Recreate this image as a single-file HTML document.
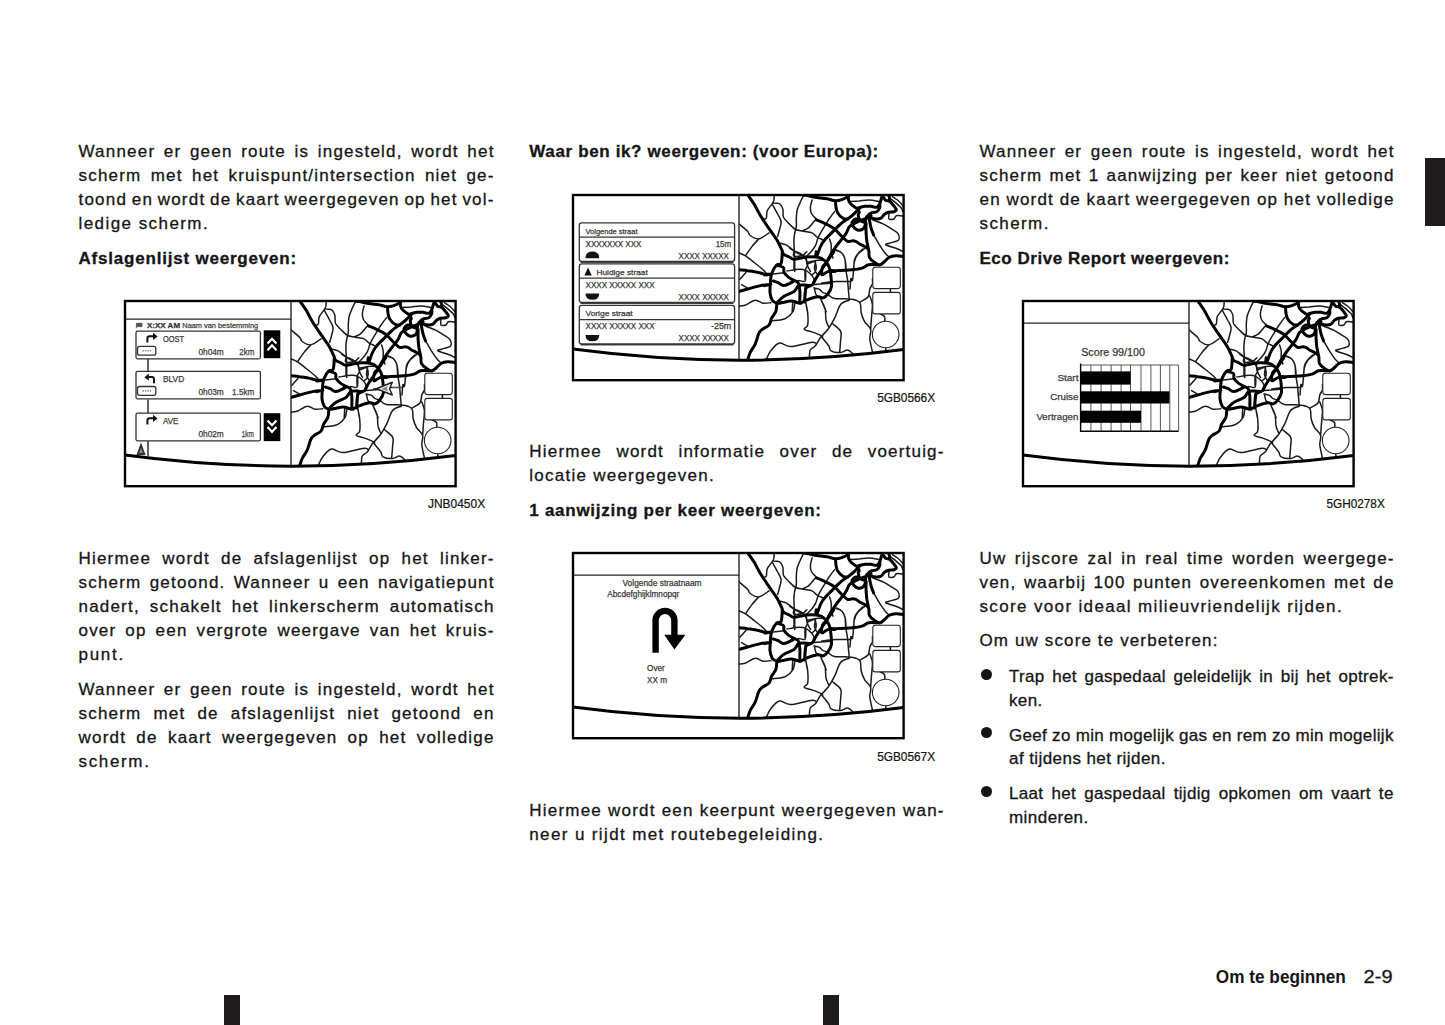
<!DOCTYPE html>
<html><head><meta charset="utf-8"><title>Om te beginnen 2-9</title><style>
*{margin:0;padding:0}
html,body{width:1445px;height:1025px;background:#fff;overflow:hidden}
body{position:relative;font-family:"Liberation Sans",sans-serif;color:#151515}
.ln{position:absolute;white-space:nowrap;font-size:17px;line-height:24px;letter-spacing:1.2px;-webkit-text-stroke:0.3px #151515}
.ln.b{font-weight:bold;letter-spacing:0.55px}
.ln.c{letter-spacing:0.33px}
.j{display:flex;justify-content:space-between}
.bul{position:absolute;width:11px;height:11px;border-radius:50%;background:#151515}
.tab{position:absolute;left:1425px;top:158px;width:20px;height:68px;background:#1d1b1c}
.mk{position:absolute;top:995px;width:16px;height:30px;background:#1d1b1c}
.foot{position:absolute;top:0;white-space:nowrap;font-size:17px;line-height:24px}
svg{position:absolute;overflow:visible;font-family:"Liberation Sans",sans-serif}
.cap{position:absolute;font-size:10.5px;line-height:12px;white-space:nowrap;color:#111}
</style></head>
<body>
<div class="ln j r" style="left:78.5px;top:140.3px;width:416.2px"><span>Wanneer</span><span>er</span><span>geen</span><span>route</span><span>is</span><span>ingesteld,</span><span>wordt</span><span>het</span></div>
<div class="ln j r" style="left:78.5px;top:164.3px;width:416.2px"><span>scherm</span><span>met</span><span>het</span><span>kruispunt/intersection</span><span>niet</span><span>ge-</span></div>
<div class="ln j r" style="left:78.5px;top:188.3px;width:416.2px"><span>toond</span><span>en</span><span>wordt</span><span>de</span><span>kaart</span><span>weergegeven</span><span>op</span><span>het</span><span>vol-</span></div>
<div class="ln r" style="left:78.5px;top:212.3px;letter-spacing:1.434px">ledige scherm.</div>
<div class="ln b" style="left:78.5px;top:247.3px;letter-spacing:0.794px">Afslagenlijst weergeven:</div>
<div class="ln j r" style="left:78.5px;top:546.8px;width:416.2px"><span>Hiermee</span><span>wordt</span><span>de</span><span>afslagenlijst</span><span>op</span><span>het</span><span>linker-</span></div>
<div class="ln j r" style="left:78.5px;top:570.8px;width:416.2px"><span>scherm</span><span>getoond.</span><span>Wanneer</span><span>u</span><span>een</span><span>navigatiepunt</span></div>
<div class="ln j r" style="left:78.5px;top:594.8px;width:416.2px"><span>nadert,</span><span>schakelt</span><span>het</span><span>linkerscherm</span><span>automatisch</span></div>
<div class="ln j r" style="left:78.5px;top:618.8px;width:416.2px"><span>over</span><span>op</span><span>een</span><span>vergrote</span><span>weergave</span><span>van</span><span>het</span><span>kruis-</span></div>
<div class="ln r" style="left:78.5px;top:642.8px;letter-spacing:1.700px">punt.</div>
<div class="ln j r" style="left:78.5px;top:677.8px;width:416.2px"><span>Wanneer</span><span>er</span><span>geen</span><span>route</span><span>is</span><span>ingesteld,</span><span>wordt</span><span>het</span></div>
<div class="ln j r" style="left:78.5px;top:701.8px;width:416.2px"><span>scherm</span><span>met</span><span>de</span><span>afslagenlijst</span><span>niet</span><span>getoond</span><span>en</span></div>
<div class="ln j r" style="left:78.5px;top:725.8px;width:416.2px"><span>wordt</span><span>de</span><span>kaart</span><span>weergegeven</span><span>op</span><span>het</span><span>volledige</span></div>
<div class="ln r" style="left:78.5px;top:749.8px;letter-spacing:1.657px">scherm.</div>
<div class="ln b" style="left:529.3px;top:140.3px;letter-spacing:0.639px">Waar ben ik? weergeven: (voor Europa):</div>
<div class="ln j r" style="left:529.3px;top:439.8px;width:415.4px"><span>Hiermee</span><span>wordt</span><span>informatie</span><span>over</span><span>de</span><span>voertuig-</span></div>
<div class="ln r" style="left:529.3px;top:463.8px;letter-spacing:1.249px">locatie weergegeven.</div>
<div class="ln b" style="left:529.3px;top:498.7px;letter-spacing:0.723px">1 aanwijzing per keer weergeven:</div>
<div class="ln j r" style="left:529.3px;top:799.0px;width:415.4px"><span>Hiermee</span><span>wordt</span><span>een</span><span>keerpunt</span><span>weergegeven</span><span>wan-</span></div>
<div class="ln r" style="left:529.3px;top:823.0px;letter-spacing:1.371px">neer u rijdt met routebegeleiding.</div>
<div class="ln j r" style="left:979.5px;top:140.3px;width:415.2px"><span>Wanneer</span><span>er</span><span>geen</span><span>route</span><span>is</span><span>ingesteld,</span><span>wordt</span><span>het</span></div>
<div class="ln j r" style="left:979.5px;top:164.3px;width:415.2px"><span>scherm</span><span>met</span><span>1</span><span>aanwijzing</span><span>per</span><span>keer</span><span>niet</span><span>getoond</span></div>
<div class="ln j r" style="left:979.5px;top:188.3px;width:415.2px"><span>en</span><span>wordt</span><span>de</span><span>kaart</span><span>weergegeven</span><span>op</span><span>het</span><span>volledige</span></div>
<div class="ln r" style="left:979.5px;top:212.3px;letter-spacing:1.407px">scherm.</div>
<div class="ln b" style="left:979.5px;top:247.3px;letter-spacing:0.527px">Eco Drive Report weergeven:</div>
<div class="ln j r" style="left:979.5px;top:547.3px;width:415.2px"><span>Uw</span><span>rijscore</span><span>zal</span><span>in</span><span>real</span><span>time</span><span>worden</span><span>weergege-</span></div>
<div class="ln j r" style="left:979.5px;top:571.3px;width:415.2px"><span>ven,</span><span>waarbij</span><span>100</span><span>punten</span><span>overeenkomen</span><span>met</span><span>de</span></div>
<div class="ln r" style="left:979.5px;top:595.3px;letter-spacing:1.355px">score voor ideaal milieuvriendelijk rijden.</div>
<div class="ln r" style="left:979.5px;top:629.1px;letter-spacing:1.126px">Om uw score te verbeteren:</div>
<div class="bul" style="left:980.5px;top:668.8px"></div>
<div class="ln j c" style="left:1009px;top:665.1px;width:384.8px"><span>Trap</span><span>het</span><span>gaspedaal</span><span>geleidelijk</span><span>in</span><span>bij</span><span>het</span><span>optrek-</span></div>
<div class="ln c" style="left:1009px;top:688.5px;letter-spacing:0.356px">ken.</div>
<div class="bul" style="left:980.5px;top:727.3px"></div>
<div class="ln j c" style="left:1009px;top:723.6px;width:384.8px"><span>Geef</span><span>zo</span><span>min</span><span>mogelijk</span><span>gas</span><span>en</span><span>rem</span><span>zo</span><span>min</span><span>mogelijk</span></div>
<div class="ln c" style="left:1009px;top:747.0px;letter-spacing:0.427px">af tijdens het rijden.</div>
<div class="bul" style="left:980.5px;top:785.8px"></div>
<div class="ln j c" style="left:1009px;top:782.1px;width:384.8px"><span>Laat</span><span>het</span><span>gaspedaal</span><span>tijdig</span><span>opkomen</span><span>om</span><span>vaart</span><span>te</span></div>
<div class="ln c" style="left:1009px;top:805.5px;letter-spacing:0.449px">minderen.</div>
<div class="tab"></div>
<div class="mk" style="left:224px"></div>
<div class="mk" style="left:823px"></div>
<svg style="left:122.7px;top:299.2px" width="334" height="190" viewBox="0 0 334 190">
<defs><clipPath id="c1"><path d="M168 2H332.6V156.5Q250 178 168 167Z"/></clipPath></defs>
<g clip-path="url(#c1)"><g transform="translate(163.7,-1.3)"><path d="M115.2 9.8C116.8 9.7 121.3 9.5 124.5 9.3C127.7 9.0 131.0 8.2 134.3 8.3C137.5 8.4 142.4 9.5 144.0 9.8M155.7 6.8C156.6 7.6 159.3 9.7 161.1 11.2C162.9 12.8 165.3 14.7 166.5 16.1C167.6 17.5 167.7 18.9 167.9 19.5M157.7 4.9C158.7 5.5 161.8 7.3 163.5 8.8C165.2 10.2 167.2 12.8 167.9 13.7M154.3 22.0C154.3 22.8 153.5 26.4 154.3 27.3C155.1 28.2 158.0 27.8 159.1 27.3C160.3 26.8 160.4 25.0 161.1 24.4C161.8 23.8 162.4 23.9 163.5 23.9C164.7 23.9 167.2 24.3 167.9 24.4M69.1 3.3C68.6 4.4 66.9 7.5 65.8 10.0C64.7 12.5 63.2 15.5 62.5 18.3C61.8 21.0 61.8 23.8 61.6 26.6C61.5 29.3 61.9 32.4 61.6 34.9C61.4 37.4 60.4 39.0 60.0 41.5C59.6 44.0 59.2 45.7 59.2 49.8C59.2 54.0 59.8 61.5 60.0 66.4C60.1 71.4 60.0 77.5 60.0 79.7M77.4 8.3C77.1 9.4 75.9 12.7 75.8 15.0C75.6 17.2 75.6 19.5 76.6 21.6C77.6 23.7 80.7 26.4 81.6 27.4M99.9 19.9C99.0 21.0 96.4 24.4 94.9 26.6C93.3 28.8 92.1 31.0 90.7 33.2C89.3 35.4 87.8 37.7 86.6 39.9C85.3 42.1 84.2 44.2 83.2 46.5C82.3 48.9 81.9 51.8 80.7 54.0C79.6 56.2 78.4 57.7 76.6 59.8C74.8 61.9 71.1 65.3 70.0 66.4M94.9 47.3C95.1 48.3 96.3 51.1 96.5 53.2C96.8 55.2 96.3 57.6 96.5 59.8C96.8 62.0 97.9 65.3 98.2 66.4M101.5 58.1C102.5 58.7 105.8 59.7 107.3 61.5C108.8 63.3 110.0 65.9 110.6 68.9C111.3 72.0 111.3 77.9 111.5 79.7M128.1 57.3C127.3 58.1 124.5 60.5 123.1 62.3C121.7 64.1 120.5 65.2 119.8 68.1C119.1 71.0 119.1 77.8 119.0 79.7M138.1 28.2C139.9 28.9 145.7 30.9 148.9 32.4C152.0 33.9 154.8 35.9 157.2 37.4C159.5 38.9 161.9 39.7 163.0 41.5C164.1 43.3 165.2 46.5 163.8 48.2C162.4 49.8 156.7 50.7 154.7 51.5C152.6 52.3 150.0 52.2 151.3 53.2C152.7 54.1 160.2 56.2 163.0 57.3C165.7 58.4 167.1 59.4 168.0 59.8M138.9 43.2C139.9 44.9 142.8 50.1 144.7 53.2C146.6 56.2 148.9 59.4 150.5 61.5C152.2 63.5 154.0 64.9 154.7 65.6M55.0 56.5C55.8 57.0 57.5 58.4 60.0 59.8C62.5 61.2 68.3 64.0 70.0 64.8M71.6 65.6C71.7 66.9 71.7 70.7 72.4 73.1C73.1 75.4 75.2 78.6 75.8 79.7M59.3 67.6L59.3 77.6M52.2 79.3C54.4 79.0 62.0 77.7 65.1 77.6C68.2 77.5 69.2 77.9 71.0 78.7C72.7 79.5 74.3 80.9 75.7 82.2C77.0 83.6 78.8 85.4 79.2 86.9C79.6 88.5 78.2 90.8 78.0 91.6M71.0 78.7C70.9 80.5 71.6 87.6 70.4 89.3C69.2 90.9 65.2 88.5 63.9 88.7C62.7 88.9 63.0 90.1 62.8 90.4M71.0 67.6C71.5 68.3 72.4 71.3 73.9 71.7C75.4 72.1 78.5 69.4 79.7 69.9C81.0 70.5 81.4 73.5 81.5 75.2C81.6 77.0 81.1 79.1 80.3 80.5C79.6 81.9 77.4 82.9 76.8 83.4M79.2 92.8L96.1 91.6M79.2 96.3C80.0 96.5 82.9 96.7 84.4 97.5C86.0 98.2 87.2 100.2 88.5 101.0C89.9 101.7 91.9 101.9 92.6 102.1M79.7 96.3C80.0 97.5 80.3 101.7 81.5 103.3C82.7 105.0 85.9 105.7 86.8 106.2M38.8 82.2L49.3 81.1M58.1 109.7L57.5 120.0M71.0 110.3L72.7 120.0M85.6 106.2L91.5 120.0M59.3 60.0C59.3 60.8 57.8 64.1 59.3 64.7C60.7 65.3 65.9 64.3 68.0 63.5C70.2 62.7 71.5 60.6 72.1 60.0M3.9 31.8C5.4 33.1 10.9 37.5 12.9 39.5C14.8 41.5 13.6 42.5 15.5 43.8C17.3 45.1 20.9 47.6 24.0 47.2C27.2 46.8 32.6 42.2 34.3 41.2M24.0 47.2C22.9 48.5 19.3 52.2 17.2 54.9C15.0 57.7 12.2 62.1 11.2 63.5M3.9 61.0C5.1 61.5 8.7 62.8 11.2 64.4C13.7 66.0 16.2 68.3 18.9 70.4C21.6 72.5 25.5 75.5 27.5 77.3C29.5 79.0 30.3 80.1 30.9 80.7M5.2 87.6L11.2 80.7M39.5 4.3C39.3 5.3 39.8 7.9 38.6 10.3C37.5 12.7 33.8 16.3 32.6 18.9C31.5 21.5 32.2 24.3 31.8 25.8C31.3 27.2 30.3 27.2 30.0 27.5M37.8 11.2C38.9 11.3 42.9 11.0 44.6 12.0C46.4 13.0 47.4 14.9 48.1 17.2C48.8 19.5 47.8 23.2 48.9 25.8C50.1 28.3 52.9 30.6 54.9 32.6C56.9 34.6 58.7 36.6 61.0 37.8C63.2 38.9 66.0 38.9 68.7 39.5C71.4 40.1 75.0 40.2 77.3 41.2C79.6 42.2 80.6 44.4 82.4 45.5C84.2 46.6 87.1 47.6 88.0 48.1M37.8 12.9C38.6 14.5 41.5 19.5 42.9 22.3C44.4 25.2 46.1 27.3 46.4 30.0C46.6 32.8 45.2 36.2 44.6 38.6C44.1 41.1 43.2 43.6 42.9 44.6M79.8 29.2C78.8 30.3 76.0 34.3 73.8 36.1C71.7 37.8 68.1 38.9 67.0 39.5M45.5 51.5C46.5 51.8 49.4 52.1 51.5 53.2C53.7 54.4 55.8 56.8 58.4 58.4C61.0 60.0 64.8 61.2 67.0 62.7C69.1 64.1 70.5 66.2 71.3 67.0M71.3 67.0C71.5 68.0 73.1 71.0 73.0 73.0C72.8 75.0 70.8 76.5 70.4 79.0C70.0 81.5 70.4 86.5 70.4 88.0M73.0 70.4C74.4 70.1 79.1 69.0 81.6 68.7C84.1 68.4 86.9 68.7 88.0 68.7M80.7 70.4C80.6 71.5 79.6 75.3 79.8 77.3C80.1 79.3 82.0 81.6 82.4 82.4M100.7 58.4C101.7 58.8 105.2 59.5 106.7 61.0C108.3 62.4 109.5 64.2 110.2 67.0C110.9 69.7 110.6 73.8 111.0 77.3C111.5 80.8 112.3 84.7 112.8 88.0C113.2 91.3 113.3 94.2 113.6 97.3C113.9 100.4 114.3 105.2 114.5 106.7M129.9 56.7C128.8 57.7 124.8 60.4 123.1 62.7C121.3 65.0 120.5 66.2 119.6 70.4C118.8 74.6 118.5 85.2 117.9 88.0C117.3 90.8 116.6 85.5 116.2 87.0C115.8 88.6 115.5 95.6 115.3 97.3M3.9 114.5C4.9 114.3 7.5 114.6 10.3 113.6C13.1 112.6 17.6 108.8 20.6 108.5C23.6 108.1 25.8 111.0 28.3 111.5C30.9 111.9 34.8 111.1 36.1 111.0M6.9 93.0L12.9 96.4M60.1 111.9C59.8 113.2 59.8 117.2 58.4 119.6C56.9 122.1 53.7 125.1 51.5 126.5C49.4 127.9 47.9 127.8 45.5 128.2C43.1 128.6 38.3 128.9 36.9 129.1M71.3 111.9C71.5 113.5 72.7 117.8 73.0 121.3C73.3 124.9 73.5 130.6 73.0 133.4C72.4 136.1 68.8 136.5 69.5 137.7C70.3 138.8 74.5 139.2 77.3 140.2C80.0 141.2 84.1 142.8 85.9 143.7C87.6 144.5 87.6 145.1 88.0 145.4M85.9 145.4C85.0 146.8 82.4 151.8 80.7 154.0C79.0 156.1 76.6 156.3 75.5 158.3C74.5 160.3 74.8 164.7 74.7 166.0M31.8 167.3C32.5 165.9 33.9 161.8 36.1 159.1C38.2 156.5 41.4 152.1 44.6 151.4C47.9 150.7 50.4 155.0 55.8 154.8C61.2 154.7 73.0 151.0 77.3 150.5C81.6 150.1 80.8 152.0 81.6 152.2M87.0 91.3C88.9 91.1 93.3 90.3 98.2 90.0C103.0 89.7 113.2 89.6 116.2 89.6M93.9 103.3C94.9 103.9 96.4 106.1 99.9 106.7C103.3 107.4 110.9 106.9 114.5 107.2C118.1 107.5 119.5 107.7 121.3 108.5C123.2 109.3 124.8 109.8 125.6 111.9C126.5 114.0 125.8 118.3 126.5 121.3C127.2 124.3 128.4 127.2 129.9 129.9C131.5 132.6 135.1 134.8 135.9 137.7C136.8 140.5 134.8 143.4 135.1 147.1C135.4 150.8 137.2 157.8 137.7 160.0M125.6 110.2C126.9 109.3 131.8 107.2 133.4 105.0C134.9 102.9 134.4 99.5 135.1 97.3C135.8 95.2 137.2 93.9 137.7 92.2C138.1 90.4 137.7 87.9 137.7 87.0M135.1 104.2C135.5 105.6 137.4 109.2 137.7 112.8C137.9 116.3 137.1 121.5 136.8 125.6C136.5 129.8 136.1 135.7 135.9 137.7M114.5 108.5C113.0 109.2 108.3 109.8 105.9 112.8C103.5 115.8 101.9 122.5 99.9 126.5C97.9 130.5 96.0 133.8 93.9 136.8C91.7 139.8 88.1 143.2 87.0 144.5M87.0 109.3C87.6 110.6 89.7 113.9 90.4 117.1C91.2 120.2 90.7 125.2 91.3 128.2C91.9 131.2 93.4 133.9 93.9 135.1M97.3 131.6C98.7 132.9 104.5 136.5 105.9 139.4C107.3 142.2 106.0 145.4 105.9 148.8C105.7 152.2 105.2 158.1 105.0 160.0M87.0 145.4C88.1 146.8 92.3 151.7 93.9 154.0C95.4 156.3 94.4 158.0 96.4 159.1C98.4 160.3 103.2 161.0 105.9 160.8C108.6 160.7 110.8 158.1 112.8 158.3C114.8 158.4 117.1 161.1 117.9 161.7M155.7 96.9L155.7 100.7M145.4 122.2C146.1 122.6 148.9 123.6 149.7 124.8C150.5 125.9 150.0 128.4 150.1 129.1M151.0 156.5L151.4 159.1" fill="none" stroke="#1a1a1a" stroke-width="1.5" stroke-linecap="round" stroke-linejoin="round"/>
<path d="M113.3 2.9C113.5 4.1 113.5 8.0 114.3 9.8C115.0 11.5 116.4 12.5 117.7 13.7C119.0 14.8 120.8 16.3 122.1 16.6C123.4 16.9 124.1 15.9 125.5 15.6C126.9 15.3 128.6 14.8 130.4 14.6C132.2 14.5 134.3 14.5 136.2 14.6C138.2 14.8 140.6 16.0 142.1 15.6C143.5 15.2 144.3 13.6 145.0 12.2C145.7 10.8 146.0 8.9 146.5 7.3C147.0 5.8 147.7 3.7 147.9 2.9M147.9 2.9C148.1 3.4 148.3 4.9 148.9 5.9C149.5 6.8 150.3 8.1 151.3 8.8C152.4 9.4 154.0 8.9 155.2 9.8C156.5 10.6 157.6 12.3 158.7 13.7C159.7 15.0 161.5 17.0 161.6 18.0C161.7 19.1 160.4 19.6 159.1 20.0C157.8 20.4 155.3 20.1 153.8 20.5C152.2 20.9 151.1 21.5 149.9 22.4C148.7 23.4 147.8 25.5 146.5 26.3C145.2 27.2 143.8 27.3 142.1 27.3C140.4 27.3 137.7 26.9 136.2 26.3C134.8 25.8 133.8 24.3 133.3 23.9M153.8 2.9C153.9 3.5 154.5 5.2 154.8 6.3C155.0 7.5 155.2 9.2 155.2 9.8M122.1 16.6C122.5 17.2 124.3 19.3 124.5 20.5C124.8 21.6 123.4 22.0 123.5 23.4C123.7 24.8 124.3 27.6 125.5 28.8C126.6 29.9 129.4 30.7 130.4 30.2C131.3 29.8 130.9 27.4 131.3 26.3C131.8 25.3 132.5 24.7 133.3 23.9C134.1 23.1 134.8 22.1 136.2 21.5C137.7 20.8 140.6 20.9 142.1 20.0C143.5 19.1 144.5 17.4 145.0 16.1C145.5 14.8 145.0 12.8 145.0 12.2M125.5 28.8C124.8 28.5 122.5 26.9 121.1 27.3C119.7 27.7 117.4 29.8 117.2 31.2C117.0 32.7 118.6 34.9 119.6 36.1C120.7 37.3 122.2 38.3 123.5 38.5C124.9 38.8 126.8 38.3 127.9 37.6C129.1 36.8 130.0 35.4 130.4 34.1C130.8 32.9 130.4 30.9 130.4 30.2M69.1 3.3C70.2 3.5 73.5 4.2 75.8 4.6C78.0 5.0 79.6 5.4 82.4 5.8C85.2 6.2 89.3 6.5 92.4 7.1C95.4 7.6 98.1 9.1 100.7 9.1C103.3 9.2 106.1 8.2 108.2 7.5C110.2 6.8 112.0 5.7 113.1 5.0C114.2 4.3 114.5 3.6 114.8 3.3M100.7 9.1C100.8 10.4 101.1 14.5 101.5 16.6C101.9 18.7 102.1 19.9 103.2 21.6C104.3 23.3 106.5 25.6 108.2 26.6C109.8 27.5 112.3 27.3 113.1 27.4M81.6 28.2C83.0 28.8 87.0 30.2 89.9 31.6C92.8 32.9 96.7 34.9 99.0 36.5C101.4 38.2 102.3 39.9 104.0 41.5C105.7 43.2 107.5 45.1 109.0 46.5C110.5 47.9 111.6 49.4 113.1 49.8C114.7 50.2 116.7 49.0 118.1 49.0C119.5 49.0 120.3 49.3 121.4 49.8C122.6 50.4 123.4 51.5 124.8 52.3C126.2 53.2 128.2 53.8 129.8 54.8C131.3 55.8 133.1 56.3 133.9 58.1C134.7 59.9 133.8 63.5 134.7 65.6C135.7 67.7 137.9 69.4 139.7 70.6C141.5 71.8 143.0 73.9 145.5 73.1C148.0 72.3 152.0 67.1 154.7 65.6C157.3 64.1 159.1 64.1 161.3 64.0C163.5 63.8 166.8 64.6 168.0 64.8M82.4 64.0C83.1 62.2 85.0 56.1 86.6 53.2C88.1 50.2 89.5 48.9 91.5 46.5C93.6 44.2 96.7 41.4 99.0 39.0C101.4 36.7 103.6 34.2 105.7 32.4C107.7 30.6 109.4 29.8 111.5 28.2C113.6 26.7 116.2 24.9 118.1 23.3C120.1 21.6 121.9 19.5 123.1 18.3C124.4 17.0 125.2 16.2 125.6 15.8M90.7 73.1C91.4 71.7 93.2 67.7 94.9 64.8C96.5 61.9 98.7 58.4 100.7 55.6C102.6 52.9 104.7 50.5 106.5 48.2C108.3 45.8 110.1 43.7 111.5 41.5C112.9 39.3 113.4 36.5 114.8 34.9C116.2 33.2 118.1 32.5 119.8 31.6C121.4 30.6 122.8 29.9 124.8 29.1C126.7 28.2 129.5 27.4 131.4 26.6C133.3 25.7 135.6 24.5 136.4 24.1M131.4 31.6C131.4 33.2 131.3 38.5 131.4 41.5C131.6 44.6 131.8 47.1 132.2 49.8C132.7 52.6 133.6 56.8 133.9 58.1M134.7 28.2C135.0 29.6 135.7 34.1 136.4 36.5C137.1 39.0 138.5 42.1 138.9 43.2M94.9 78.9C96.5 78.9 101.1 79.0 104.8 78.9C108.6 78.8 113.6 78.5 117.3 78.1C121.0 77.7 124.5 77.2 127.3 76.4C130.0 75.6 131.4 73.6 133.9 73.1C136.4 72.5 140.3 73.1 142.2 73.1C144.1 73.1 145.0 73.1 145.5 73.1M13.7 3.9C14.7 5.4 17.7 9.5 19.7 12.9C21.7 16.2 23.3 20.0 25.8 24.0C28.2 28.0 31.6 32.9 34.3 36.9C37.1 40.9 39.8 44.4 42.1 48.1C44.3 51.8 46.7 57.4 47.6 59.2M47.6 60.0C47.4 62.0 47.4 69.5 46.4 71.7C45.4 73.9 43.3 71.8 41.7 73.5C40.1 75.1 38.0 79.0 37.0 81.7C36.0 84.3 36.1 86.0 35.9 89.3C35.6 92.5 35.0 97.8 35.3 101.0C35.6 104.2 36.4 106.8 37.6 108.6C38.8 110.3 40.6 111.1 42.3 111.5C43.9 111.9 45.2 111.3 47.6 110.9C49.9 110.5 53.8 109.2 56.3 109.2C58.9 109.2 61.1 110.5 62.8 110.9C64.4 111.3 64.9 111.9 66.3 111.5C67.7 111.1 68.2 109.7 71.0 108.6C73.7 107.5 79.7 105.5 82.7 105.1C85.6 104.7 86.8 106.7 88.5 106.2C90.3 105.7 91.8 104.0 93.2 102.1C94.6 100.3 96.2 98.2 96.7 95.1C97.2 92.0 96.5 86.7 96.1 83.4C95.7 80.1 95.2 77.4 94.4 75.2C93.6 73.1 92.6 71.9 91.5 70.5C90.3 69.2 89.0 67.9 87.4 67.0C85.7 66.1 84.2 65.6 81.5 65.3C78.8 65.0 74.7 64.9 71.0 65.3C67.3 65.7 62.0 67.6 59.3 67.6C56.5 67.6 56.2 66.0 54.6 65.3C52.9 64.5 50.5 63.8 49.3 62.9C48.1 62.0 47.9 60.5 47.6 60.0M99.1 60.0C98.3 61.2 95.8 64.9 94.4 67.0C92.9 69.2 91.6 70.8 90.3 72.9C88.9 74.9 87.6 77.1 86.2 79.3C84.7 81.6 82.9 84.1 81.5 86.3C80.1 88.6 79.4 91.3 78.0 92.8C76.6 94.2 74.5 94.3 73.3 95.1C72.1 95.9 71.6 95.0 71.0 97.5C70.4 99.9 70.0 107.7 69.8 109.7M90.9 71.7C90.4 72.3 88.6 73.5 87.9 75.2C87.3 77.0 86.7 81.0 86.8 82.2C86.9 83.5 87.5 83.2 88.5 82.8C89.6 82.4 91.3 80.4 93.2 79.9C95.1 79.4 98.9 79.9 100.0 79.9M81.5 60.0L80.9 65.3M41.7 73.5C42.9 73.9 47.5 74.6 48.7 75.8C50.0 77.0 48.5 78.9 49.3 80.5C50.1 82.0 51.9 83.9 53.4 85.2C54.9 86.4 56.4 87.1 58.1 88.1C59.8 89.1 62.2 89.3 63.4 91.0C64.5 92.8 64.8 95.3 65.1 98.6C65.4 101.9 65.1 108.9 65.1 110.9M38.8 89.3C39.6 89.6 41.8 90.2 43.5 91.0C45.1 91.8 46.8 93.8 48.7 93.9C50.7 94.0 53.4 92.4 55.2 91.6C56.9 90.8 58.6 89.7 59.3 89.3M43.5 109.7C44.4 108.9 46.7 106.1 49.3 104.5C51.9 102.8 57.0 101.4 59.3 99.8C61.5 98.2 61.8 96.2 62.8 95.1C63.8 94.0 63.8 93.7 65.1 93.4C66.5 93.1 69.2 93.3 71.0 93.4C72.7 93.5 74.5 94.0 75.7 93.9C76.8 93.8 77.6 93.0 78.0 92.8M71.0 96.3L69.8 110.3M30.0 83.4L36.4 82.5M30.0 93.9L35.9 92.5M3.9 78.1C5.4 78.3 9.9 78.6 12.9 79.0C15.8 79.3 18.6 79.7 21.5 80.3C24.3 80.8 27.6 82.1 30.0 82.4C32.5 82.8 35.1 82.4 36.1 82.4M3.9 99.9C5.4 99.5 9.2 98.3 12.9 97.3C16.5 96.3 21.9 94.7 25.8 93.9C29.6 93.1 34.3 92.8 36.1 92.6M42.1 111.9C41.9 113.2 42.1 117.2 41.2 119.6C40.4 122.1 38.1 124.2 36.9 126.5C35.8 128.8 35.9 131.5 34.3 133.4C32.8 135.2 29.2 136.2 27.5 137.7C25.8 139.1 25.2 139.5 24.0 141.9C22.9 144.4 22.0 149.1 20.6 152.2C19.2 155.4 16.7 158.1 15.5 160.8C14.2 163.6 13.3 167.3 12.9 168.6" fill="none" stroke="#000" stroke-width="3" stroke-linecap="round" stroke-linejoin="round"/>
<rect x="138.1" y="75.5" width="27.5" height="21.4" rx="2.5" fill="#fff" stroke="#222" stroke-width="1.1"/>
<rect x="138.1" y="100.7" width="27.5" height="21.5" rx="2.5" fill="#fff" stroke="#222" stroke-width="1.1"/>
<circle cx="151" cy="142.8" r="13.3" fill="#fff" stroke="#222" stroke-width="1.1"/></g><path d="M269 88.5H279" stroke="#555" stroke-width="1"/><path d="M253.6 89.7L269.3 83.3L266.5 89.7L269.3 96Z" fill="#fff" stroke="#222" stroke-width="1.5" stroke-linejoin="round"/><path d="M258 89.7L265 87L264 89.7L265 92.5Z" fill="#888"/></g>
<path d="M2 156Q167 178 332.6 156.5" fill="none" stroke="#000" stroke-width="3"/>
<line x1="168" y1="2" x2="168" y2="167" stroke="#111" stroke-width="1.3"/>
<line x1="2" y1="20.2" x2="168" y2="20.2" stroke="#222" stroke-width="1.2"/>
<rect x="2" y="2" width="330.6" height="185.2" fill="none" stroke="#000" stroke-width="2.4"/>
<path d="M13.4 24.1V29M13.6 24.3H19V27.6H13.6" fill="#555" stroke="#444" stroke-width="0.8"/><text x="23.9" y="29.1" font-size="7.3" textLength="33.2" lengthAdjust="spacingAndGlyphs" font-weight="bold" fill="#333" stroke="#333" stroke-width="0.25">X:XX AM</text><text x="59.3" y="29.1" font-size="7.3" textLength="75.9" lengthAdjust="spacingAndGlyphs" fill="#444" stroke="#444" stroke-width="0.25">Naam van bestemming</text><path d="M25 59.5V72.5M25 100.5V114.4M25 142V157" stroke="#111" stroke-width="1.3"/><rect x="13" y="32.2" width="124.4" height="27.6" rx="1.5" fill="#fff" stroke="#333" stroke-width="1.3"/><path d="M24.4 43.5V39.5Q24.4 37.300000000000004 26.6 37.300000000000004H30.3" fill="none" stroke="#111" stroke-width="2"/><path d="M30 33.800000000000004L34.6 37.400000000000006L30 41.0Z" fill="#111"/><text x="39.9" y="42.900000000000006" font-size="8.8" textLength="21.1" lengthAdjust="spacingAndGlyphs" fill="#3a3a3a" stroke="#3a3a3a" stroke-width="0.25">OOST</text><text x="75.4" y="55.7" font-size="8.8" textLength="25.4" lengthAdjust="spacingAndGlyphs" fill="#3a3a3a" stroke="#3a3a3a" stroke-width="0.25">0h04m</text><text x="116.3" y="55.7" font-size="8.8" textLength="15" lengthAdjust="spacingAndGlyphs" fill="#3a3a3a" stroke="#3a3a3a" stroke-width="0.25">2km</text><rect x="14.5" y="47.400000000000006" width="18.3" height="8.8" rx="2" fill="#fff" stroke="#333" stroke-width="1.3"/><path d="M19.5 51.800000000000004H28" stroke="#888" stroke-width="1.6" stroke-dasharray="1.4 1.1"/><rect x="13" y="72.3" width="124.4" height="27.6" rx="1.5" fill="#fff" stroke="#333" stroke-width="1.3"/><path d="M31 84.3V80.3Q31 78.1 28.8 78.1H25.5" fill="none" stroke="#111" stroke-width="2"/><path d="M25.8 74.6L21.4 78.2L25.8 81.8Z" fill="#111"/><text x="39.9" y="83.0" font-size="8.8" textLength="21.3" lengthAdjust="spacingAndGlyphs" fill="#3a3a3a" stroke="#3a3a3a" stroke-width="0.25">BLVD</text><text x="75.4" y="95.8" font-size="8.8" textLength="25.4" lengthAdjust="spacingAndGlyphs" fill="#3a3a3a" stroke="#3a3a3a" stroke-width="0.25">0h03m</text><text x="109.1" y="95.8" font-size="8.8" textLength="22.2" lengthAdjust="spacingAndGlyphs" fill="#3a3a3a" stroke="#3a3a3a" stroke-width="0.25">1.5km</text><rect x="14.5" y="87.5" width="18.3" height="8.8" rx="2" fill="#fff" stroke="#333" stroke-width="1.3"/><path d="M19.5 91.9H28" stroke="#888" stroke-width="1.6" stroke-dasharray="1.4 1.1"/><rect x="13" y="114.2" width="124.4" height="27.6" rx="1.5" fill="#fff" stroke="#333" stroke-width="1.3"/><path d="M24.4 125.5V121.5Q24.4 119.3 26.6 119.3H30.3" fill="none" stroke="#111" stroke-width="2"/><path d="M30 115.8L34.6 119.4L30 123.0Z" fill="#111"/><text x="39.9" y="124.9" font-size="8.8" textLength="15.5" lengthAdjust="spacingAndGlyphs" fill="#3a3a3a" stroke="#3a3a3a" stroke-width="0.25">AVE</text><text x="75.4" y="137.7" font-size="8.8" textLength="25.4" lengthAdjust="spacingAndGlyphs" fill="#3a3a3a" stroke="#3a3a3a" stroke-width="0.25">0h02m</text><text x="118.7" y="137.7" font-size="8.8" textLength="12" lengthAdjust="spacingAndGlyphs" fill="#3a3a3a" stroke="#3a3a3a" stroke-width="0.25">1km</text><rect x="140.7" y="31.3" width="16.6" height="27.9" fill="#000"/><path d="M144.5 44.6L149 39.8L153.5 44.6M144.5 51.2L149 46.4L153.5 51.2" fill="none" stroke="#fff" stroke-width="2.2"/><rect x="140.7" y="114.2" width="16.6" height="27.9" fill="#000"/><path d="M144.5 121.4L149 126.2L153.5 121.4M144.5 128L149 132.8L153.5 128" fill="none" stroke="#fff" stroke-width="2.2"/><path d="M18 143.5L22.6 156H13.4Z" fill="#333"/><path d="M18 149L20 154H16Z" fill="#888"/>
</svg><svg style="left:571.3px;top:192.6px" width="334" height="190" viewBox="0 0 334 190">
<defs><clipPath id="c2"><path d="M168 2H332.6V156.5Q250 178 168 167Z"/></clipPath></defs>
<g clip-path="url(#c2)"><g transform="translate(163.7,-1.3)"><path d="M115.2 9.8C116.8 9.7 121.3 9.5 124.5 9.3C127.7 9.0 131.0 8.2 134.3 8.3C137.5 8.4 142.4 9.5 144.0 9.8M155.7 6.8C156.6 7.6 159.3 9.7 161.1 11.2C162.9 12.8 165.3 14.7 166.5 16.1C167.6 17.5 167.7 18.9 167.9 19.5M157.7 4.9C158.7 5.5 161.8 7.3 163.5 8.8C165.2 10.2 167.2 12.8 167.9 13.7M154.3 22.0C154.3 22.8 153.5 26.4 154.3 27.3C155.1 28.2 158.0 27.8 159.1 27.3C160.3 26.8 160.4 25.0 161.1 24.4C161.8 23.8 162.4 23.9 163.5 23.9C164.7 23.9 167.2 24.3 167.9 24.4M69.1 3.3C68.6 4.4 66.9 7.5 65.8 10.0C64.7 12.5 63.2 15.5 62.5 18.3C61.8 21.0 61.8 23.8 61.6 26.6C61.5 29.3 61.9 32.4 61.6 34.9C61.4 37.4 60.4 39.0 60.0 41.5C59.6 44.0 59.2 45.7 59.2 49.8C59.2 54.0 59.8 61.5 60.0 66.4C60.1 71.4 60.0 77.5 60.0 79.7M77.4 8.3C77.1 9.4 75.9 12.7 75.8 15.0C75.6 17.2 75.6 19.5 76.6 21.6C77.6 23.7 80.7 26.4 81.6 27.4M99.9 19.9C99.0 21.0 96.4 24.4 94.9 26.6C93.3 28.8 92.1 31.0 90.7 33.2C89.3 35.4 87.8 37.7 86.6 39.9C85.3 42.1 84.2 44.2 83.2 46.5C82.3 48.9 81.9 51.8 80.7 54.0C79.6 56.2 78.4 57.7 76.6 59.8C74.8 61.9 71.1 65.3 70.0 66.4M94.9 47.3C95.1 48.3 96.3 51.1 96.5 53.2C96.8 55.2 96.3 57.6 96.5 59.8C96.8 62.0 97.9 65.3 98.2 66.4M101.5 58.1C102.5 58.7 105.8 59.7 107.3 61.5C108.8 63.3 110.0 65.9 110.6 68.9C111.3 72.0 111.3 77.9 111.5 79.7M128.1 57.3C127.3 58.1 124.5 60.5 123.1 62.3C121.7 64.1 120.5 65.2 119.8 68.1C119.1 71.0 119.1 77.8 119.0 79.7M138.1 28.2C139.9 28.9 145.7 30.9 148.9 32.4C152.0 33.9 154.8 35.9 157.2 37.4C159.5 38.9 161.9 39.7 163.0 41.5C164.1 43.3 165.2 46.5 163.8 48.2C162.4 49.8 156.7 50.7 154.7 51.5C152.6 52.3 150.0 52.2 151.3 53.2C152.7 54.1 160.2 56.2 163.0 57.3C165.7 58.4 167.1 59.4 168.0 59.8M138.9 43.2C139.9 44.9 142.8 50.1 144.7 53.2C146.6 56.2 148.9 59.4 150.5 61.5C152.2 63.5 154.0 64.9 154.7 65.6M55.0 56.5C55.8 57.0 57.5 58.4 60.0 59.8C62.5 61.2 68.3 64.0 70.0 64.8M71.6 65.6C71.7 66.9 71.7 70.7 72.4 73.1C73.1 75.4 75.2 78.6 75.8 79.7M59.3 67.6L59.3 77.6M52.2 79.3C54.4 79.0 62.0 77.7 65.1 77.6C68.2 77.5 69.2 77.9 71.0 78.7C72.7 79.5 74.3 80.9 75.7 82.2C77.0 83.6 78.8 85.4 79.2 86.9C79.6 88.5 78.2 90.8 78.0 91.6M71.0 78.7C70.9 80.5 71.6 87.6 70.4 89.3C69.2 90.9 65.2 88.5 63.9 88.7C62.7 88.9 63.0 90.1 62.8 90.4M71.0 67.6C71.5 68.3 72.4 71.3 73.9 71.7C75.4 72.1 78.5 69.4 79.7 69.9C81.0 70.5 81.4 73.5 81.5 75.2C81.6 77.0 81.1 79.1 80.3 80.5C79.6 81.9 77.4 82.9 76.8 83.4M79.2 92.8L96.1 91.6M79.2 96.3C80.0 96.5 82.9 96.7 84.4 97.5C86.0 98.2 87.2 100.2 88.5 101.0C89.9 101.7 91.9 101.9 92.6 102.1M79.7 96.3C80.0 97.5 80.3 101.7 81.5 103.3C82.7 105.0 85.9 105.7 86.8 106.2M38.8 82.2L49.3 81.1M58.1 109.7L57.5 120.0M71.0 110.3L72.7 120.0M85.6 106.2L91.5 120.0M59.3 60.0C59.3 60.8 57.8 64.1 59.3 64.7C60.7 65.3 65.9 64.3 68.0 63.5C70.2 62.7 71.5 60.6 72.1 60.0M3.9 31.8C5.4 33.1 10.9 37.5 12.9 39.5C14.8 41.5 13.6 42.5 15.5 43.8C17.3 45.1 20.9 47.6 24.0 47.2C27.2 46.8 32.6 42.2 34.3 41.2M24.0 47.2C22.9 48.5 19.3 52.2 17.2 54.9C15.0 57.7 12.2 62.1 11.2 63.5M3.9 61.0C5.1 61.5 8.7 62.8 11.2 64.4C13.7 66.0 16.2 68.3 18.9 70.4C21.6 72.5 25.5 75.5 27.5 77.3C29.5 79.0 30.3 80.1 30.9 80.7M5.2 87.6L11.2 80.7M39.5 4.3C39.3 5.3 39.8 7.9 38.6 10.3C37.5 12.7 33.8 16.3 32.6 18.9C31.5 21.5 32.2 24.3 31.8 25.8C31.3 27.2 30.3 27.2 30.0 27.5M37.8 11.2C38.9 11.3 42.9 11.0 44.6 12.0C46.4 13.0 47.4 14.9 48.1 17.2C48.8 19.5 47.8 23.2 48.9 25.8C50.1 28.3 52.9 30.6 54.9 32.6C56.9 34.6 58.7 36.6 61.0 37.8C63.2 38.9 66.0 38.9 68.7 39.5C71.4 40.1 75.0 40.2 77.3 41.2C79.6 42.2 80.6 44.4 82.4 45.5C84.2 46.6 87.1 47.6 88.0 48.1M37.8 12.9C38.6 14.5 41.5 19.5 42.9 22.3C44.4 25.2 46.1 27.3 46.4 30.0C46.6 32.8 45.2 36.2 44.6 38.6C44.1 41.1 43.2 43.6 42.9 44.6M79.8 29.2C78.8 30.3 76.0 34.3 73.8 36.1C71.7 37.8 68.1 38.9 67.0 39.5M45.5 51.5C46.5 51.8 49.4 52.1 51.5 53.2C53.7 54.4 55.8 56.8 58.4 58.4C61.0 60.0 64.8 61.2 67.0 62.7C69.1 64.1 70.5 66.2 71.3 67.0M71.3 67.0C71.5 68.0 73.1 71.0 73.0 73.0C72.8 75.0 70.8 76.5 70.4 79.0C70.0 81.5 70.4 86.5 70.4 88.0M73.0 70.4C74.4 70.1 79.1 69.0 81.6 68.7C84.1 68.4 86.9 68.7 88.0 68.7M80.7 70.4C80.6 71.5 79.6 75.3 79.8 77.3C80.1 79.3 82.0 81.6 82.4 82.4M100.7 58.4C101.7 58.8 105.2 59.5 106.7 61.0C108.3 62.4 109.5 64.2 110.2 67.0C110.9 69.7 110.6 73.8 111.0 77.3C111.5 80.8 112.3 84.7 112.8 88.0C113.2 91.3 113.3 94.2 113.6 97.3C113.9 100.4 114.3 105.2 114.5 106.7M129.9 56.7C128.8 57.7 124.8 60.4 123.1 62.7C121.3 65.0 120.5 66.2 119.6 70.4C118.8 74.6 118.5 85.2 117.9 88.0C117.3 90.8 116.6 85.5 116.2 87.0C115.8 88.6 115.5 95.6 115.3 97.3M3.9 114.5C4.9 114.3 7.5 114.6 10.3 113.6C13.1 112.6 17.6 108.8 20.6 108.5C23.6 108.1 25.8 111.0 28.3 111.5C30.9 111.9 34.8 111.1 36.1 111.0M6.9 93.0L12.9 96.4M60.1 111.9C59.8 113.2 59.8 117.2 58.4 119.6C56.9 122.1 53.7 125.1 51.5 126.5C49.4 127.9 47.9 127.8 45.5 128.2C43.1 128.6 38.3 128.9 36.9 129.1M71.3 111.9C71.5 113.5 72.7 117.8 73.0 121.3C73.3 124.9 73.5 130.6 73.0 133.4C72.4 136.1 68.8 136.5 69.5 137.7C70.3 138.8 74.5 139.2 77.3 140.2C80.0 141.2 84.1 142.8 85.9 143.7C87.6 144.5 87.6 145.1 88.0 145.4M85.9 145.4C85.0 146.8 82.4 151.8 80.7 154.0C79.0 156.1 76.6 156.3 75.5 158.3C74.5 160.3 74.8 164.7 74.7 166.0M31.8 167.3C32.5 165.9 33.9 161.8 36.1 159.1C38.2 156.5 41.4 152.1 44.6 151.4C47.9 150.7 50.4 155.0 55.8 154.8C61.2 154.7 73.0 151.0 77.3 150.5C81.6 150.1 80.8 152.0 81.6 152.2M87.0 91.3C88.9 91.1 93.3 90.3 98.2 90.0C103.0 89.7 113.2 89.6 116.2 89.6M93.9 103.3C94.9 103.9 96.4 106.1 99.9 106.7C103.3 107.4 110.9 106.9 114.5 107.2C118.1 107.5 119.5 107.7 121.3 108.5C123.2 109.3 124.8 109.8 125.6 111.9C126.5 114.0 125.8 118.3 126.5 121.3C127.2 124.3 128.4 127.2 129.9 129.9C131.5 132.6 135.1 134.8 135.9 137.7C136.8 140.5 134.8 143.4 135.1 147.1C135.4 150.8 137.2 157.8 137.7 160.0M125.6 110.2C126.9 109.3 131.8 107.2 133.4 105.0C134.9 102.9 134.4 99.5 135.1 97.3C135.8 95.2 137.2 93.9 137.7 92.2C138.1 90.4 137.7 87.9 137.7 87.0M135.1 104.2C135.5 105.6 137.4 109.2 137.7 112.8C137.9 116.3 137.1 121.5 136.8 125.6C136.5 129.8 136.1 135.7 135.9 137.7M114.5 108.5C113.0 109.2 108.3 109.8 105.9 112.8C103.5 115.8 101.9 122.5 99.9 126.5C97.9 130.5 96.0 133.8 93.9 136.8C91.7 139.8 88.1 143.2 87.0 144.5M87.0 109.3C87.6 110.6 89.7 113.9 90.4 117.1C91.2 120.2 90.7 125.2 91.3 128.2C91.9 131.2 93.4 133.9 93.9 135.1M97.3 131.6C98.7 132.9 104.5 136.5 105.9 139.4C107.3 142.2 106.0 145.4 105.9 148.8C105.7 152.2 105.2 158.1 105.0 160.0M87.0 145.4C88.1 146.8 92.3 151.7 93.9 154.0C95.4 156.3 94.4 158.0 96.4 159.1C98.4 160.3 103.2 161.0 105.9 160.8C108.6 160.7 110.8 158.1 112.8 158.3C114.8 158.4 117.1 161.1 117.9 161.7M155.7 96.9L155.7 100.7M145.4 122.2C146.1 122.6 148.9 123.6 149.7 124.8C150.5 125.9 150.0 128.4 150.1 129.1M151.0 156.5L151.4 159.1" fill="none" stroke="#1a1a1a" stroke-width="1.5" stroke-linecap="round" stroke-linejoin="round"/>
<path d="M113.3 2.9C113.5 4.1 113.5 8.0 114.3 9.8C115.0 11.5 116.4 12.5 117.7 13.7C119.0 14.8 120.8 16.3 122.1 16.6C123.4 16.9 124.1 15.9 125.5 15.6C126.9 15.3 128.6 14.8 130.4 14.6C132.2 14.5 134.3 14.5 136.2 14.6C138.2 14.8 140.6 16.0 142.1 15.6C143.5 15.2 144.3 13.6 145.0 12.2C145.7 10.8 146.0 8.9 146.5 7.3C147.0 5.8 147.7 3.7 147.9 2.9M147.9 2.9C148.1 3.4 148.3 4.9 148.9 5.9C149.5 6.8 150.3 8.1 151.3 8.8C152.4 9.4 154.0 8.9 155.2 9.8C156.5 10.6 157.6 12.3 158.7 13.7C159.7 15.0 161.5 17.0 161.6 18.0C161.7 19.1 160.4 19.6 159.1 20.0C157.8 20.4 155.3 20.1 153.8 20.5C152.2 20.9 151.1 21.5 149.9 22.4C148.7 23.4 147.8 25.5 146.5 26.3C145.2 27.2 143.8 27.3 142.1 27.3C140.4 27.3 137.7 26.9 136.2 26.3C134.8 25.8 133.8 24.3 133.3 23.9M153.8 2.9C153.9 3.5 154.5 5.2 154.8 6.3C155.0 7.5 155.2 9.2 155.2 9.8M122.1 16.6C122.5 17.2 124.3 19.3 124.5 20.5C124.8 21.6 123.4 22.0 123.5 23.4C123.7 24.8 124.3 27.6 125.5 28.8C126.6 29.9 129.4 30.7 130.4 30.2C131.3 29.8 130.9 27.4 131.3 26.3C131.8 25.3 132.5 24.7 133.3 23.9C134.1 23.1 134.8 22.1 136.2 21.5C137.7 20.8 140.6 20.9 142.1 20.0C143.5 19.1 144.5 17.4 145.0 16.1C145.5 14.8 145.0 12.8 145.0 12.2M125.5 28.8C124.8 28.5 122.5 26.9 121.1 27.3C119.7 27.7 117.4 29.8 117.2 31.2C117.0 32.7 118.6 34.9 119.6 36.1C120.7 37.3 122.2 38.3 123.5 38.5C124.9 38.8 126.8 38.3 127.9 37.6C129.1 36.8 130.0 35.4 130.4 34.1C130.8 32.9 130.4 30.9 130.4 30.2M69.1 3.3C70.2 3.5 73.5 4.2 75.8 4.6C78.0 5.0 79.6 5.4 82.4 5.8C85.2 6.2 89.3 6.5 92.4 7.1C95.4 7.6 98.1 9.1 100.7 9.1C103.3 9.2 106.1 8.2 108.2 7.5C110.2 6.8 112.0 5.7 113.1 5.0C114.2 4.3 114.5 3.6 114.8 3.3M100.7 9.1C100.8 10.4 101.1 14.5 101.5 16.6C101.9 18.7 102.1 19.9 103.2 21.6C104.3 23.3 106.5 25.6 108.2 26.6C109.8 27.5 112.3 27.3 113.1 27.4M81.6 28.2C83.0 28.8 87.0 30.2 89.9 31.6C92.8 32.9 96.7 34.9 99.0 36.5C101.4 38.2 102.3 39.9 104.0 41.5C105.7 43.2 107.5 45.1 109.0 46.5C110.5 47.9 111.6 49.4 113.1 49.8C114.7 50.2 116.7 49.0 118.1 49.0C119.5 49.0 120.3 49.3 121.4 49.8C122.6 50.4 123.4 51.5 124.8 52.3C126.2 53.2 128.2 53.8 129.8 54.8C131.3 55.8 133.1 56.3 133.9 58.1C134.7 59.9 133.8 63.5 134.7 65.6C135.7 67.7 137.9 69.4 139.7 70.6C141.5 71.8 143.0 73.9 145.5 73.1C148.0 72.3 152.0 67.1 154.7 65.6C157.3 64.1 159.1 64.1 161.3 64.0C163.5 63.8 166.8 64.6 168.0 64.8M82.4 64.0C83.1 62.2 85.0 56.1 86.6 53.2C88.1 50.2 89.5 48.9 91.5 46.5C93.6 44.2 96.7 41.4 99.0 39.0C101.4 36.7 103.6 34.2 105.7 32.4C107.7 30.6 109.4 29.8 111.5 28.2C113.6 26.7 116.2 24.9 118.1 23.3C120.1 21.6 121.9 19.5 123.1 18.3C124.4 17.0 125.2 16.2 125.6 15.8M90.7 73.1C91.4 71.7 93.2 67.7 94.9 64.8C96.5 61.9 98.7 58.4 100.7 55.6C102.6 52.9 104.7 50.5 106.5 48.2C108.3 45.8 110.1 43.7 111.5 41.5C112.9 39.3 113.4 36.5 114.8 34.9C116.2 33.2 118.1 32.5 119.8 31.6C121.4 30.6 122.8 29.9 124.8 29.1C126.7 28.2 129.5 27.4 131.4 26.6C133.3 25.7 135.6 24.5 136.4 24.1M131.4 31.6C131.4 33.2 131.3 38.5 131.4 41.5C131.6 44.6 131.8 47.1 132.2 49.8C132.7 52.6 133.6 56.8 133.9 58.1M134.7 28.2C135.0 29.6 135.7 34.1 136.4 36.5C137.1 39.0 138.5 42.1 138.9 43.2M94.9 78.9C96.5 78.9 101.1 79.0 104.8 78.9C108.6 78.8 113.6 78.5 117.3 78.1C121.0 77.7 124.5 77.2 127.3 76.4C130.0 75.6 131.4 73.6 133.9 73.1C136.4 72.5 140.3 73.1 142.2 73.1C144.1 73.1 145.0 73.1 145.5 73.1M13.7 3.9C14.7 5.4 17.7 9.5 19.7 12.9C21.7 16.2 23.3 20.0 25.8 24.0C28.2 28.0 31.6 32.9 34.3 36.9C37.1 40.9 39.8 44.4 42.1 48.1C44.3 51.8 46.7 57.4 47.6 59.2M47.6 60.0C47.4 62.0 47.4 69.5 46.4 71.7C45.4 73.9 43.3 71.8 41.7 73.5C40.1 75.1 38.0 79.0 37.0 81.7C36.0 84.3 36.1 86.0 35.9 89.3C35.6 92.5 35.0 97.8 35.3 101.0C35.6 104.2 36.4 106.8 37.6 108.6C38.8 110.3 40.6 111.1 42.3 111.5C43.9 111.9 45.2 111.3 47.6 110.9C49.9 110.5 53.8 109.2 56.3 109.2C58.9 109.2 61.1 110.5 62.8 110.9C64.4 111.3 64.9 111.9 66.3 111.5C67.7 111.1 68.2 109.7 71.0 108.6C73.7 107.5 79.7 105.5 82.7 105.1C85.6 104.7 86.8 106.7 88.5 106.2C90.3 105.7 91.8 104.0 93.2 102.1C94.6 100.3 96.2 98.2 96.7 95.1C97.2 92.0 96.5 86.7 96.1 83.4C95.7 80.1 95.2 77.4 94.4 75.2C93.6 73.1 92.6 71.9 91.5 70.5C90.3 69.2 89.0 67.9 87.4 67.0C85.7 66.1 84.2 65.6 81.5 65.3C78.8 65.0 74.7 64.9 71.0 65.3C67.3 65.7 62.0 67.6 59.3 67.6C56.5 67.6 56.2 66.0 54.6 65.3C52.9 64.5 50.5 63.8 49.3 62.9C48.1 62.0 47.9 60.5 47.6 60.0M99.1 60.0C98.3 61.2 95.8 64.9 94.4 67.0C92.9 69.2 91.6 70.8 90.3 72.9C88.9 74.9 87.6 77.1 86.2 79.3C84.7 81.6 82.9 84.1 81.5 86.3C80.1 88.6 79.4 91.3 78.0 92.8C76.6 94.2 74.5 94.3 73.3 95.1C72.1 95.9 71.6 95.0 71.0 97.5C70.4 99.9 70.0 107.7 69.8 109.7M90.9 71.7C90.4 72.3 88.6 73.5 87.9 75.2C87.3 77.0 86.7 81.0 86.8 82.2C86.9 83.5 87.5 83.2 88.5 82.8C89.6 82.4 91.3 80.4 93.2 79.9C95.1 79.4 98.9 79.9 100.0 79.9M81.5 60.0L80.9 65.3M41.7 73.5C42.9 73.9 47.5 74.6 48.7 75.8C50.0 77.0 48.5 78.9 49.3 80.5C50.1 82.0 51.9 83.9 53.4 85.2C54.9 86.4 56.4 87.1 58.1 88.1C59.8 89.1 62.2 89.3 63.4 91.0C64.5 92.8 64.8 95.3 65.1 98.6C65.4 101.9 65.1 108.9 65.1 110.9M38.8 89.3C39.6 89.6 41.8 90.2 43.5 91.0C45.1 91.8 46.8 93.8 48.7 93.9C50.7 94.0 53.4 92.4 55.2 91.6C56.9 90.8 58.6 89.7 59.3 89.3M43.5 109.7C44.4 108.9 46.7 106.1 49.3 104.5C51.9 102.8 57.0 101.4 59.3 99.8C61.5 98.2 61.8 96.2 62.8 95.1C63.8 94.0 63.8 93.7 65.1 93.4C66.5 93.1 69.2 93.3 71.0 93.4C72.7 93.5 74.5 94.0 75.7 93.9C76.8 93.8 77.6 93.0 78.0 92.8M71.0 96.3L69.8 110.3M30.0 83.4L36.4 82.5M30.0 93.9L35.9 92.5M3.9 78.1C5.4 78.3 9.9 78.6 12.9 79.0C15.8 79.3 18.6 79.7 21.5 80.3C24.3 80.8 27.6 82.1 30.0 82.4C32.5 82.8 35.1 82.4 36.1 82.4M3.9 99.9C5.4 99.5 9.2 98.3 12.9 97.3C16.5 96.3 21.9 94.7 25.8 93.9C29.6 93.1 34.3 92.8 36.1 92.6M42.1 111.9C41.9 113.2 42.1 117.2 41.2 119.6C40.4 122.1 38.1 124.2 36.9 126.5C35.8 128.8 35.9 131.5 34.3 133.4C32.8 135.2 29.2 136.2 27.5 137.7C25.8 139.1 25.2 139.5 24.0 141.9C22.9 144.4 22.0 149.1 20.6 152.2C19.2 155.4 16.7 158.1 15.5 160.8C14.2 163.6 13.3 167.3 12.9 168.6" fill="none" stroke="#000" stroke-width="3" stroke-linecap="round" stroke-linejoin="round"/>
<rect x="138.1" y="75.5" width="27.5" height="21.4" rx="2.5" fill="#fff" stroke="#222" stroke-width="1.1"/>
<rect x="138.1" y="100.7" width="27.5" height="21.5" rx="2.5" fill="#fff" stroke="#222" stroke-width="1.1"/>
<circle cx="151" cy="142.8" r="13.3" fill="#fff" stroke="#222" stroke-width="1.1"/></g></g>
<path d="M2 156Q167 178 332.6 156.5" fill="none" stroke="#000" stroke-width="3"/>
<line x1="168" y1="2" x2="168" y2="167" stroke="#111" stroke-width="1.3"/>

<rect x="2" y="2" width="330.6" height="185.2" fill="none" stroke="#000" stroke-width="2.4"/>
<path d="M9.5 69.2H162.4" stroke="#444" stroke-width="1.6"/><rect x="8.3" y="29.8" width="155.3" height="38.6" rx="2.5" fill="#fff" stroke="#333" stroke-width="1.3"/><line x1="8.3" y1="44.1" x2="163.6" y2="44.1" stroke="#333" stroke-width="1.2"/><text x="14.5" y="40.7" font-size="7.5" textLength="52" lengthAdjust="spacingAndGlyphs" fill="#3a3a3a" stroke="#3a3a3a" stroke-width="0.25">Volgende straat</text><text x="14.5" y="53.5" font-size="8.6" textLength="56" lengthAdjust="spacingAndGlyphs" fill="#3a3a3a" stroke="#3a3a3a" stroke-width="0.25">XXXXXXX XXX</text><text x="144.7" y="53.5" font-size="8.6" textLength="15.4" lengthAdjust="spacingAndGlyphs" fill="#3a3a3a" stroke="#3a3a3a" stroke-width="0.25">15m</text><text x="107.6" y="65.8" font-size="8.6" textLength="50.2" lengthAdjust="spacingAndGlyphs" fill="#3a3a3a" stroke="#3a3a3a" stroke-width="0.25">XXXX XXXXX</text><path d="M14.5 65.2Q14.5 58.400000000000006 21.4 58.400000000000006Q28.2 58.400000000000006 28.2 65.2Z" fill="#111"/><path d="M9.5 110.30000000000001H162.4" stroke="#444" stroke-width="1.6"/><rect x="8.3" y="70.9" width="155.3" height="38.6" rx="2.5" fill="#fff" stroke="#333" stroke-width="1.3"/><line x1="8.3" y1="85.2" x2="163.6" y2="85.2" stroke="#333" stroke-width="1.2"/><text x="25.4" y="81.80000000000001" font-size="7.5" textLength="51.4" lengthAdjust="spacingAndGlyphs" fill="#3a3a3a" stroke="#3a3a3a" stroke-width="0.25">Huidige straat</text><text x="14.5" y="94.60000000000001" font-size="8.6" textLength="69.1" lengthAdjust="spacingAndGlyphs" fill="#3a3a3a" stroke="#3a3a3a" stroke-width="0.25">XXXX XXXXX XXX</text><text x="107.6" y="106.9" font-size="8.6" textLength="50.2" lengthAdjust="spacingAndGlyphs" fill="#3a3a3a" stroke="#3a3a3a" stroke-width="0.25">XXXX XXXXX</text><path d="M14.5 100.4H28.2Q28.2 106.7 21.4 106.7Q14.5 106.7 14.5 100.4Z" fill="#111"/><path d="M17.1 74.4L20.8 82.4H13.4Z" fill="#111"/><path d="M9.5 151.8H162.4" stroke="#444" stroke-width="1.6"/><rect x="8.3" y="112.4" width="155.3" height="38.6" rx="2.5" fill="#fff" stroke="#333" stroke-width="1.3"/><line x1="8.3" y1="126.7" x2="163.6" y2="126.7" stroke="#333" stroke-width="1.2"/><text x="14.5" y="123.30000000000001" font-size="7.5" textLength="47.2" lengthAdjust="spacingAndGlyphs" fill="#3a3a3a" stroke="#3a3a3a" stroke-width="0.25">Vorige straat</text><text x="14.5" y="136.1" font-size="8.6" textLength="69.1" lengthAdjust="spacingAndGlyphs" fill="#3a3a3a" stroke="#3a3a3a" stroke-width="0.25">XXXX XXXXX XXX</text><text x="140" y="136.1" font-size="8.6" textLength="20.2" lengthAdjust="spacingAndGlyphs" fill="#3a3a3a" stroke="#3a3a3a" stroke-width="0.25">-25m</text><text x="107.6" y="148.4" font-size="8.6" textLength="50.2" lengthAdjust="spacingAndGlyphs" fill="#3a3a3a" stroke="#3a3a3a" stroke-width="0.25">XXXX XXXXX</text><path d="M14.5 141.9H28.2Q28.2 148.2 21.4 148.2Q14.5 148.2 14.5 141.9Z" fill="#111"/>
</svg><svg style="left:571.3px;top:551.3px" width="334" height="190" viewBox="0 0 334 190">
<defs><clipPath id="c3"><path d="M168 2H332.6V156.5Q250 178 168 167Z"/></clipPath></defs>
<g clip-path="url(#c3)"><g transform="translate(163.7,-1.3)"><path d="M115.2 9.8C116.8 9.7 121.3 9.5 124.5 9.3C127.7 9.0 131.0 8.2 134.3 8.3C137.5 8.4 142.4 9.5 144.0 9.8M155.7 6.8C156.6 7.6 159.3 9.7 161.1 11.2C162.9 12.8 165.3 14.7 166.5 16.1C167.6 17.5 167.7 18.9 167.9 19.5M157.7 4.9C158.7 5.5 161.8 7.3 163.5 8.8C165.2 10.2 167.2 12.8 167.9 13.7M154.3 22.0C154.3 22.8 153.5 26.4 154.3 27.3C155.1 28.2 158.0 27.8 159.1 27.3C160.3 26.8 160.4 25.0 161.1 24.4C161.8 23.8 162.4 23.9 163.5 23.9C164.7 23.9 167.2 24.3 167.9 24.4M69.1 3.3C68.6 4.4 66.9 7.5 65.8 10.0C64.7 12.5 63.2 15.5 62.5 18.3C61.8 21.0 61.8 23.8 61.6 26.6C61.5 29.3 61.9 32.4 61.6 34.9C61.4 37.4 60.4 39.0 60.0 41.5C59.6 44.0 59.2 45.7 59.2 49.8C59.2 54.0 59.8 61.5 60.0 66.4C60.1 71.4 60.0 77.5 60.0 79.7M77.4 8.3C77.1 9.4 75.9 12.7 75.8 15.0C75.6 17.2 75.6 19.5 76.6 21.6C77.6 23.7 80.7 26.4 81.6 27.4M99.9 19.9C99.0 21.0 96.4 24.4 94.9 26.6C93.3 28.8 92.1 31.0 90.7 33.2C89.3 35.4 87.8 37.7 86.6 39.9C85.3 42.1 84.2 44.2 83.2 46.5C82.3 48.9 81.9 51.8 80.7 54.0C79.6 56.2 78.4 57.7 76.6 59.8C74.8 61.9 71.1 65.3 70.0 66.4M94.9 47.3C95.1 48.3 96.3 51.1 96.5 53.2C96.8 55.2 96.3 57.6 96.5 59.8C96.8 62.0 97.9 65.3 98.2 66.4M101.5 58.1C102.5 58.7 105.8 59.7 107.3 61.5C108.8 63.3 110.0 65.9 110.6 68.9C111.3 72.0 111.3 77.9 111.5 79.7M128.1 57.3C127.3 58.1 124.5 60.5 123.1 62.3C121.7 64.1 120.5 65.2 119.8 68.1C119.1 71.0 119.1 77.8 119.0 79.7M138.1 28.2C139.9 28.9 145.7 30.9 148.9 32.4C152.0 33.9 154.8 35.9 157.2 37.4C159.5 38.9 161.9 39.7 163.0 41.5C164.1 43.3 165.2 46.5 163.8 48.2C162.4 49.8 156.7 50.7 154.7 51.5C152.6 52.3 150.0 52.2 151.3 53.2C152.7 54.1 160.2 56.2 163.0 57.3C165.7 58.4 167.1 59.4 168.0 59.8M138.9 43.2C139.9 44.9 142.8 50.1 144.7 53.2C146.6 56.2 148.9 59.4 150.5 61.5C152.2 63.5 154.0 64.9 154.7 65.6M55.0 56.5C55.8 57.0 57.5 58.4 60.0 59.8C62.5 61.2 68.3 64.0 70.0 64.8M71.6 65.6C71.7 66.9 71.7 70.7 72.4 73.1C73.1 75.4 75.2 78.6 75.8 79.7M59.3 67.6L59.3 77.6M52.2 79.3C54.4 79.0 62.0 77.7 65.1 77.6C68.2 77.5 69.2 77.9 71.0 78.7C72.7 79.5 74.3 80.9 75.7 82.2C77.0 83.6 78.8 85.4 79.2 86.9C79.6 88.5 78.2 90.8 78.0 91.6M71.0 78.7C70.9 80.5 71.6 87.6 70.4 89.3C69.2 90.9 65.2 88.5 63.9 88.7C62.7 88.9 63.0 90.1 62.8 90.4M71.0 67.6C71.5 68.3 72.4 71.3 73.9 71.7C75.4 72.1 78.5 69.4 79.7 69.9C81.0 70.5 81.4 73.5 81.5 75.2C81.6 77.0 81.1 79.1 80.3 80.5C79.6 81.9 77.4 82.9 76.8 83.4M79.2 92.8L96.1 91.6M79.2 96.3C80.0 96.5 82.9 96.7 84.4 97.5C86.0 98.2 87.2 100.2 88.5 101.0C89.9 101.7 91.9 101.9 92.6 102.1M79.7 96.3C80.0 97.5 80.3 101.7 81.5 103.3C82.7 105.0 85.9 105.7 86.8 106.2M38.8 82.2L49.3 81.1M58.1 109.7L57.5 120.0M71.0 110.3L72.7 120.0M85.6 106.2L91.5 120.0M59.3 60.0C59.3 60.8 57.8 64.1 59.3 64.7C60.7 65.3 65.9 64.3 68.0 63.5C70.2 62.7 71.5 60.6 72.1 60.0M3.9 31.8C5.4 33.1 10.9 37.5 12.9 39.5C14.8 41.5 13.6 42.5 15.5 43.8C17.3 45.1 20.9 47.6 24.0 47.2C27.2 46.8 32.6 42.2 34.3 41.2M24.0 47.2C22.9 48.5 19.3 52.2 17.2 54.9C15.0 57.7 12.2 62.1 11.2 63.5M3.9 61.0C5.1 61.5 8.7 62.8 11.2 64.4C13.7 66.0 16.2 68.3 18.9 70.4C21.6 72.5 25.5 75.5 27.5 77.3C29.5 79.0 30.3 80.1 30.9 80.7M5.2 87.6L11.2 80.7M39.5 4.3C39.3 5.3 39.8 7.9 38.6 10.3C37.5 12.7 33.8 16.3 32.6 18.9C31.5 21.5 32.2 24.3 31.8 25.8C31.3 27.2 30.3 27.2 30.0 27.5M37.8 11.2C38.9 11.3 42.9 11.0 44.6 12.0C46.4 13.0 47.4 14.9 48.1 17.2C48.8 19.5 47.8 23.2 48.9 25.8C50.1 28.3 52.9 30.6 54.9 32.6C56.9 34.6 58.7 36.6 61.0 37.8C63.2 38.9 66.0 38.9 68.7 39.5C71.4 40.1 75.0 40.2 77.3 41.2C79.6 42.2 80.6 44.4 82.4 45.5C84.2 46.6 87.1 47.6 88.0 48.1M37.8 12.9C38.6 14.5 41.5 19.5 42.9 22.3C44.4 25.2 46.1 27.3 46.4 30.0C46.6 32.8 45.2 36.2 44.6 38.6C44.1 41.1 43.2 43.6 42.9 44.6M79.8 29.2C78.8 30.3 76.0 34.3 73.8 36.1C71.7 37.8 68.1 38.9 67.0 39.5M45.5 51.5C46.5 51.8 49.4 52.1 51.5 53.2C53.7 54.4 55.8 56.8 58.4 58.4C61.0 60.0 64.8 61.2 67.0 62.7C69.1 64.1 70.5 66.2 71.3 67.0M71.3 67.0C71.5 68.0 73.1 71.0 73.0 73.0C72.8 75.0 70.8 76.5 70.4 79.0C70.0 81.5 70.4 86.5 70.4 88.0M73.0 70.4C74.4 70.1 79.1 69.0 81.6 68.7C84.1 68.4 86.9 68.7 88.0 68.7M80.7 70.4C80.6 71.5 79.6 75.3 79.8 77.3C80.1 79.3 82.0 81.6 82.4 82.4M100.7 58.4C101.7 58.8 105.2 59.5 106.7 61.0C108.3 62.4 109.5 64.2 110.2 67.0C110.9 69.7 110.6 73.8 111.0 77.3C111.5 80.8 112.3 84.7 112.8 88.0C113.2 91.3 113.3 94.2 113.6 97.3C113.9 100.4 114.3 105.2 114.5 106.7M129.9 56.7C128.8 57.7 124.8 60.4 123.1 62.7C121.3 65.0 120.5 66.2 119.6 70.4C118.8 74.6 118.5 85.2 117.9 88.0C117.3 90.8 116.6 85.5 116.2 87.0C115.8 88.6 115.5 95.6 115.3 97.3M3.9 114.5C4.9 114.3 7.5 114.6 10.3 113.6C13.1 112.6 17.6 108.8 20.6 108.5C23.6 108.1 25.8 111.0 28.3 111.5C30.9 111.9 34.8 111.1 36.1 111.0M6.9 93.0L12.9 96.4M60.1 111.9C59.8 113.2 59.8 117.2 58.4 119.6C56.9 122.1 53.7 125.1 51.5 126.5C49.4 127.9 47.9 127.8 45.5 128.2C43.1 128.6 38.3 128.9 36.9 129.1M71.3 111.9C71.5 113.5 72.7 117.8 73.0 121.3C73.3 124.9 73.5 130.6 73.0 133.4C72.4 136.1 68.8 136.5 69.5 137.7C70.3 138.8 74.5 139.2 77.3 140.2C80.0 141.2 84.1 142.8 85.9 143.7C87.6 144.5 87.6 145.1 88.0 145.4M85.9 145.4C85.0 146.8 82.4 151.8 80.7 154.0C79.0 156.1 76.6 156.3 75.5 158.3C74.5 160.3 74.8 164.7 74.7 166.0M31.8 167.3C32.5 165.9 33.9 161.8 36.1 159.1C38.2 156.5 41.4 152.1 44.6 151.4C47.9 150.7 50.4 155.0 55.8 154.8C61.2 154.7 73.0 151.0 77.3 150.5C81.6 150.1 80.8 152.0 81.6 152.2M87.0 91.3C88.9 91.1 93.3 90.3 98.2 90.0C103.0 89.7 113.2 89.6 116.2 89.6M93.9 103.3C94.9 103.9 96.4 106.1 99.9 106.7C103.3 107.4 110.9 106.9 114.5 107.2C118.1 107.5 119.5 107.7 121.3 108.5C123.2 109.3 124.8 109.8 125.6 111.9C126.5 114.0 125.8 118.3 126.5 121.3C127.2 124.3 128.4 127.2 129.9 129.9C131.5 132.6 135.1 134.8 135.9 137.7C136.8 140.5 134.8 143.4 135.1 147.1C135.4 150.8 137.2 157.8 137.7 160.0M125.6 110.2C126.9 109.3 131.8 107.2 133.4 105.0C134.9 102.9 134.4 99.5 135.1 97.3C135.8 95.2 137.2 93.9 137.7 92.2C138.1 90.4 137.7 87.9 137.7 87.0M135.1 104.2C135.5 105.6 137.4 109.2 137.7 112.8C137.9 116.3 137.1 121.5 136.8 125.6C136.5 129.8 136.1 135.7 135.9 137.7M114.5 108.5C113.0 109.2 108.3 109.8 105.9 112.8C103.5 115.8 101.9 122.5 99.9 126.5C97.9 130.5 96.0 133.8 93.9 136.8C91.7 139.8 88.1 143.2 87.0 144.5M87.0 109.3C87.6 110.6 89.7 113.9 90.4 117.1C91.2 120.2 90.7 125.2 91.3 128.2C91.9 131.2 93.4 133.9 93.9 135.1M97.3 131.6C98.7 132.9 104.5 136.5 105.9 139.4C107.3 142.2 106.0 145.4 105.9 148.8C105.7 152.2 105.2 158.1 105.0 160.0M87.0 145.4C88.1 146.8 92.3 151.7 93.9 154.0C95.4 156.3 94.4 158.0 96.4 159.1C98.4 160.3 103.2 161.0 105.9 160.8C108.6 160.7 110.8 158.1 112.8 158.3C114.8 158.4 117.1 161.1 117.9 161.7M155.7 96.9L155.7 100.7M145.4 122.2C146.1 122.6 148.9 123.6 149.7 124.8C150.5 125.9 150.0 128.4 150.1 129.1M151.0 156.5L151.4 159.1" fill="none" stroke="#1a1a1a" stroke-width="1.5" stroke-linecap="round" stroke-linejoin="round"/>
<path d="M113.3 2.9C113.5 4.1 113.5 8.0 114.3 9.8C115.0 11.5 116.4 12.5 117.7 13.7C119.0 14.8 120.8 16.3 122.1 16.6C123.4 16.9 124.1 15.9 125.5 15.6C126.9 15.3 128.6 14.8 130.4 14.6C132.2 14.5 134.3 14.5 136.2 14.6C138.2 14.8 140.6 16.0 142.1 15.6C143.5 15.2 144.3 13.6 145.0 12.2C145.7 10.8 146.0 8.9 146.5 7.3C147.0 5.8 147.7 3.7 147.9 2.9M147.9 2.9C148.1 3.4 148.3 4.9 148.9 5.9C149.5 6.8 150.3 8.1 151.3 8.8C152.4 9.4 154.0 8.9 155.2 9.8C156.5 10.6 157.6 12.3 158.7 13.7C159.7 15.0 161.5 17.0 161.6 18.0C161.7 19.1 160.4 19.6 159.1 20.0C157.8 20.4 155.3 20.1 153.8 20.5C152.2 20.9 151.1 21.5 149.9 22.4C148.7 23.4 147.8 25.5 146.5 26.3C145.2 27.2 143.8 27.3 142.1 27.3C140.4 27.3 137.7 26.9 136.2 26.3C134.8 25.8 133.8 24.3 133.3 23.9M153.8 2.9C153.9 3.5 154.5 5.2 154.8 6.3C155.0 7.5 155.2 9.2 155.2 9.8M122.1 16.6C122.5 17.2 124.3 19.3 124.5 20.5C124.8 21.6 123.4 22.0 123.5 23.4C123.7 24.8 124.3 27.6 125.5 28.8C126.6 29.9 129.4 30.7 130.4 30.2C131.3 29.8 130.9 27.4 131.3 26.3C131.8 25.3 132.5 24.7 133.3 23.9C134.1 23.1 134.8 22.1 136.2 21.5C137.7 20.8 140.6 20.9 142.1 20.0C143.5 19.1 144.5 17.4 145.0 16.1C145.5 14.8 145.0 12.8 145.0 12.2M125.5 28.8C124.8 28.5 122.5 26.9 121.1 27.3C119.7 27.7 117.4 29.8 117.2 31.2C117.0 32.7 118.6 34.9 119.6 36.1C120.7 37.3 122.2 38.3 123.5 38.5C124.9 38.8 126.8 38.3 127.9 37.6C129.1 36.8 130.0 35.4 130.4 34.1C130.8 32.9 130.4 30.9 130.4 30.2M69.1 3.3C70.2 3.5 73.5 4.2 75.8 4.6C78.0 5.0 79.6 5.4 82.4 5.8C85.2 6.2 89.3 6.5 92.4 7.1C95.4 7.6 98.1 9.1 100.7 9.1C103.3 9.2 106.1 8.2 108.2 7.5C110.2 6.8 112.0 5.7 113.1 5.0C114.2 4.3 114.5 3.6 114.8 3.3M100.7 9.1C100.8 10.4 101.1 14.5 101.5 16.6C101.9 18.7 102.1 19.9 103.2 21.6C104.3 23.3 106.5 25.6 108.2 26.6C109.8 27.5 112.3 27.3 113.1 27.4M81.6 28.2C83.0 28.8 87.0 30.2 89.9 31.6C92.8 32.9 96.7 34.9 99.0 36.5C101.4 38.2 102.3 39.9 104.0 41.5C105.7 43.2 107.5 45.1 109.0 46.5C110.5 47.9 111.6 49.4 113.1 49.8C114.7 50.2 116.7 49.0 118.1 49.0C119.5 49.0 120.3 49.3 121.4 49.8C122.6 50.4 123.4 51.5 124.8 52.3C126.2 53.2 128.2 53.8 129.8 54.8C131.3 55.8 133.1 56.3 133.9 58.1C134.7 59.9 133.8 63.5 134.7 65.6C135.7 67.7 137.9 69.4 139.7 70.6C141.5 71.8 143.0 73.9 145.5 73.1C148.0 72.3 152.0 67.1 154.7 65.6C157.3 64.1 159.1 64.1 161.3 64.0C163.5 63.8 166.8 64.6 168.0 64.8M82.4 64.0C83.1 62.2 85.0 56.1 86.6 53.2C88.1 50.2 89.5 48.9 91.5 46.5C93.6 44.2 96.7 41.4 99.0 39.0C101.4 36.7 103.6 34.2 105.7 32.4C107.7 30.6 109.4 29.8 111.5 28.2C113.6 26.7 116.2 24.9 118.1 23.3C120.1 21.6 121.9 19.5 123.1 18.3C124.4 17.0 125.2 16.2 125.6 15.8M90.7 73.1C91.4 71.7 93.2 67.7 94.9 64.8C96.5 61.9 98.7 58.4 100.7 55.6C102.6 52.9 104.7 50.5 106.5 48.2C108.3 45.8 110.1 43.7 111.5 41.5C112.9 39.3 113.4 36.5 114.8 34.9C116.2 33.2 118.1 32.5 119.8 31.6C121.4 30.6 122.8 29.9 124.8 29.1C126.7 28.2 129.5 27.4 131.4 26.6C133.3 25.7 135.6 24.5 136.4 24.1M131.4 31.6C131.4 33.2 131.3 38.5 131.4 41.5C131.6 44.6 131.8 47.1 132.2 49.8C132.7 52.6 133.6 56.8 133.9 58.1M134.7 28.2C135.0 29.6 135.7 34.1 136.4 36.5C137.1 39.0 138.5 42.1 138.9 43.2M94.9 78.9C96.5 78.9 101.1 79.0 104.8 78.9C108.6 78.8 113.6 78.5 117.3 78.1C121.0 77.7 124.5 77.2 127.3 76.4C130.0 75.6 131.4 73.6 133.9 73.1C136.4 72.5 140.3 73.1 142.2 73.1C144.1 73.1 145.0 73.1 145.5 73.1M13.7 3.9C14.7 5.4 17.7 9.5 19.7 12.9C21.7 16.2 23.3 20.0 25.8 24.0C28.2 28.0 31.6 32.9 34.3 36.9C37.1 40.9 39.8 44.4 42.1 48.1C44.3 51.8 46.7 57.4 47.6 59.2M47.6 60.0C47.4 62.0 47.4 69.5 46.4 71.7C45.4 73.9 43.3 71.8 41.7 73.5C40.1 75.1 38.0 79.0 37.0 81.7C36.0 84.3 36.1 86.0 35.9 89.3C35.6 92.5 35.0 97.8 35.3 101.0C35.6 104.2 36.4 106.8 37.6 108.6C38.8 110.3 40.6 111.1 42.3 111.5C43.9 111.9 45.2 111.3 47.6 110.9C49.9 110.5 53.8 109.2 56.3 109.2C58.9 109.2 61.1 110.5 62.8 110.9C64.4 111.3 64.9 111.9 66.3 111.5C67.7 111.1 68.2 109.7 71.0 108.6C73.7 107.5 79.7 105.5 82.7 105.1C85.6 104.7 86.8 106.7 88.5 106.2C90.3 105.7 91.8 104.0 93.2 102.1C94.6 100.3 96.2 98.2 96.7 95.1C97.2 92.0 96.5 86.7 96.1 83.4C95.7 80.1 95.2 77.4 94.4 75.2C93.6 73.1 92.6 71.9 91.5 70.5C90.3 69.2 89.0 67.9 87.4 67.0C85.7 66.1 84.2 65.6 81.5 65.3C78.8 65.0 74.7 64.9 71.0 65.3C67.3 65.7 62.0 67.6 59.3 67.6C56.5 67.6 56.2 66.0 54.6 65.3C52.9 64.5 50.5 63.8 49.3 62.9C48.1 62.0 47.9 60.5 47.6 60.0M99.1 60.0C98.3 61.2 95.8 64.9 94.4 67.0C92.9 69.2 91.6 70.8 90.3 72.9C88.9 74.9 87.6 77.1 86.2 79.3C84.7 81.6 82.9 84.1 81.5 86.3C80.1 88.6 79.4 91.3 78.0 92.8C76.6 94.2 74.5 94.3 73.3 95.1C72.1 95.9 71.6 95.0 71.0 97.5C70.4 99.9 70.0 107.7 69.8 109.7M90.9 71.7C90.4 72.3 88.6 73.5 87.9 75.2C87.3 77.0 86.7 81.0 86.8 82.2C86.9 83.5 87.5 83.2 88.5 82.8C89.6 82.4 91.3 80.4 93.2 79.9C95.1 79.4 98.9 79.9 100.0 79.9M81.5 60.0L80.9 65.3M41.7 73.5C42.9 73.9 47.5 74.6 48.7 75.8C50.0 77.0 48.5 78.9 49.3 80.5C50.1 82.0 51.9 83.9 53.4 85.2C54.9 86.4 56.4 87.1 58.1 88.1C59.8 89.1 62.2 89.3 63.4 91.0C64.5 92.8 64.8 95.3 65.1 98.6C65.4 101.9 65.1 108.9 65.1 110.9M38.8 89.3C39.6 89.6 41.8 90.2 43.5 91.0C45.1 91.8 46.8 93.8 48.7 93.9C50.7 94.0 53.4 92.4 55.2 91.6C56.9 90.8 58.6 89.7 59.3 89.3M43.5 109.7C44.4 108.9 46.7 106.1 49.3 104.5C51.9 102.8 57.0 101.4 59.3 99.8C61.5 98.2 61.8 96.2 62.8 95.1C63.8 94.0 63.8 93.7 65.1 93.4C66.5 93.1 69.2 93.3 71.0 93.4C72.7 93.5 74.5 94.0 75.7 93.9C76.8 93.8 77.6 93.0 78.0 92.8M71.0 96.3L69.8 110.3M30.0 83.4L36.4 82.5M30.0 93.9L35.9 92.5M3.9 78.1C5.4 78.3 9.9 78.6 12.9 79.0C15.8 79.3 18.6 79.7 21.5 80.3C24.3 80.8 27.6 82.1 30.0 82.4C32.5 82.8 35.1 82.4 36.1 82.4M3.9 99.9C5.4 99.5 9.2 98.3 12.9 97.3C16.5 96.3 21.9 94.7 25.8 93.9C29.6 93.1 34.3 92.8 36.1 92.6M42.1 111.9C41.9 113.2 42.1 117.2 41.2 119.6C40.4 122.1 38.1 124.2 36.9 126.5C35.8 128.8 35.9 131.5 34.3 133.4C32.8 135.2 29.2 136.2 27.5 137.7C25.8 139.1 25.2 139.5 24.0 141.9C22.9 144.4 22.0 149.1 20.6 152.2C19.2 155.4 16.7 158.1 15.5 160.8C14.2 163.6 13.3 167.3 12.9 168.6" fill="none" stroke="#000" stroke-width="3" stroke-linecap="round" stroke-linejoin="round"/>
<rect x="138.1" y="75.5" width="27.5" height="21.4" rx="2.5" fill="#fff" stroke="#222" stroke-width="1.1"/>
<rect x="138.1" y="100.7" width="27.5" height="21.5" rx="2.5" fill="#fff" stroke="#222" stroke-width="1.1"/>
<circle cx="151" cy="142.8" r="13.3" fill="#fff" stroke="#222" stroke-width="1.1"/></g></g>
<path d="M2 156Q167 178 332.6 156.5" fill="none" stroke="#000" stroke-width="3"/>
<line x1="168" y1="2" x2="168" y2="167" stroke="#111" stroke-width="1.3"/>
<line x1="2" y1="24.1" x2="168" y2="24.1" stroke="#222" stroke-width="1.2"/>
<rect x="2" y="2" width="330.6" height="185.2" fill="none" stroke="#000" stroke-width="2.4"/>
<text x="51.5" y="34.5" font-size="8.5" textLength="79.1" lengthAdjust="spacingAndGlyphs" fill="#3a3a3a" stroke="#3a3a3a" stroke-width="0.25">Volgende straatnaam</text><text x="36.3" y="45.6" font-size="8.5" textLength="72" lengthAdjust="spacingAndGlyphs" fill="#3a3a3a" stroke="#3a3a3a" stroke-width="0.25">Abcdefghijklmnopqr</text><path d="M84.6 101.8V69.3A9.4 9.4 0 0 1 103.4 69.3V84.7" fill="none" stroke="#000" stroke-width="6.4"/><path d="M93.2 83.7H114.4L103.4 98.4Z" fill="#000"/><text x="76.1" y="120" font-size="8.5" textLength="17.6" lengthAdjust="spacingAndGlyphs" fill="#3a3a3a" stroke="#3a3a3a" stroke-width="0.25">Over</text><text x="76.1" y="131.7" font-size="8.5" textLength="19.9" lengthAdjust="spacingAndGlyphs" fill="#3a3a3a" stroke="#3a3a3a" stroke-width="0.25">XX m</text>
</svg><svg style="left:1021.3px;top:299.2px" width="334" height="190" viewBox="0 0 334 190">
<defs><clipPath id="c4"><path d="M168 2H332.6V156.5Q250 178 168 167Z"/></clipPath></defs>
<g clip-path="url(#c4)"><g transform="translate(163.7,-1.3)"><path d="M115.2 9.8C116.8 9.7 121.3 9.5 124.5 9.3C127.7 9.0 131.0 8.2 134.3 8.3C137.5 8.4 142.4 9.5 144.0 9.8M155.7 6.8C156.6 7.6 159.3 9.7 161.1 11.2C162.9 12.8 165.3 14.7 166.5 16.1C167.6 17.5 167.7 18.9 167.9 19.5M157.7 4.9C158.7 5.5 161.8 7.3 163.5 8.8C165.2 10.2 167.2 12.8 167.9 13.7M154.3 22.0C154.3 22.8 153.5 26.4 154.3 27.3C155.1 28.2 158.0 27.8 159.1 27.3C160.3 26.8 160.4 25.0 161.1 24.4C161.8 23.8 162.4 23.9 163.5 23.9C164.7 23.9 167.2 24.3 167.9 24.4M69.1 3.3C68.6 4.4 66.9 7.5 65.8 10.0C64.7 12.5 63.2 15.5 62.5 18.3C61.8 21.0 61.8 23.8 61.6 26.6C61.5 29.3 61.9 32.4 61.6 34.9C61.4 37.4 60.4 39.0 60.0 41.5C59.6 44.0 59.2 45.7 59.2 49.8C59.2 54.0 59.8 61.5 60.0 66.4C60.1 71.4 60.0 77.5 60.0 79.7M77.4 8.3C77.1 9.4 75.9 12.7 75.8 15.0C75.6 17.2 75.6 19.5 76.6 21.6C77.6 23.7 80.7 26.4 81.6 27.4M99.9 19.9C99.0 21.0 96.4 24.4 94.9 26.6C93.3 28.8 92.1 31.0 90.7 33.2C89.3 35.4 87.8 37.7 86.6 39.9C85.3 42.1 84.2 44.2 83.2 46.5C82.3 48.9 81.9 51.8 80.7 54.0C79.6 56.2 78.4 57.7 76.6 59.8C74.8 61.9 71.1 65.3 70.0 66.4M94.9 47.3C95.1 48.3 96.3 51.1 96.5 53.2C96.8 55.2 96.3 57.6 96.5 59.8C96.8 62.0 97.9 65.3 98.2 66.4M101.5 58.1C102.5 58.7 105.8 59.7 107.3 61.5C108.8 63.3 110.0 65.9 110.6 68.9C111.3 72.0 111.3 77.9 111.5 79.7M128.1 57.3C127.3 58.1 124.5 60.5 123.1 62.3C121.7 64.1 120.5 65.2 119.8 68.1C119.1 71.0 119.1 77.8 119.0 79.7M138.1 28.2C139.9 28.9 145.7 30.9 148.9 32.4C152.0 33.9 154.8 35.9 157.2 37.4C159.5 38.9 161.9 39.7 163.0 41.5C164.1 43.3 165.2 46.5 163.8 48.2C162.4 49.8 156.7 50.7 154.7 51.5C152.6 52.3 150.0 52.2 151.3 53.2C152.7 54.1 160.2 56.2 163.0 57.3C165.7 58.4 167.1 59.4 168.0 59.8M138.9 43.2C139.9 44.9 142.8 50.1 144.7 53.2C146.6 56.2 148.9 59.4 150.5 61.5C152.2 63.5 154.0 64.9 154.7 65.6M55.0 56.5C55.8 57.0 57.5 58.4 60.0 59.8C62.5 61.2 68.3 64.0 70.0 64.8M71.6 65.6C71.7 66.9 71.7 70.7 72.4 73.1C73.1 75.4 75.2 78.6 75.8 79.7M59.3 67.6L59.3 77.6M52.2 79.3C54.4 79.0 62.0 77.7 65.1 77.6C68.2 77.5 69.2 77.9 71.0 78.7C72.7 79.5 74.3 80.9 75.7 82.2C77.0 83.6 78.8 85.4 79.2 86.9C79.6 88.5 78.2 90.8 78.0 91.6M71.0 78.7C70.9 80.5 71.6 87.6 70.4 89.3C69.2 90.9 65.2 88.5 63.9 88.7C62.7 88.9 63.0 90.1 62.8 90.4M71.0 67.6C71.5 68.3 72.4 71.3 73.9 71.7C75.4 72.1 78.5 69.4 79.7 69.9C81.0 70.5 81.4 73.5 81.5 75.2C81.6 77.0 81.1 79.1 80.3 80.5C79.6 81.9 77.4 82.9 76.8 83.4M79.2 92.8L96.1 91.6M79.2 96.3C80.0 96.5 82.9 96.7 84.4 97.5C86.0 98.2 87.2 100.2 88.5 101.0C89.9 101.7 91.9 101.9 92.6 102.1M79.7 96.3C80.0 97.5 80.3 101.7 81.5 103.3C82.7 105.0 85.9 105.7 86.8 106.2M38.8 82.2L49.3 81.1M58.1 109.7L57.5 120.0M71.0 110.3L72.7 120.0M85.6 106.2L91.5 120.0M59.3 60.0C59.3 60.8 57.8 64.1 59.3 64.7C60.7 65.3 65.9 64.3 68.0 63.5C70.2 62.7 71.5 60.6 72.1 60.0M3.9 31.8C5.4 33.1 10.9 37.5 12.9 39.5C14.8 41.5 13.6 42.5 15.5 43.8C17.3 45.1 20.9 47.6 24.0 47.2C27.2 46.8 32.6 42.2 34.3 41.2M24.0 47.2C22.9 48.5 19.3 52.2 17.2 54.9C15.0 57.7 12.2 62.1 11.2 63.5M3.9 61.0C5.1 61.5 8.7 62.8 11.2 64.4C13.7 66.0 16.2 68.3 18.9 70.4C21.6 72.5 25.5 75.5 27.5 77.3C29.5 79.0 30.3 80.1 30.9 80.7M5.2 87.6L11.2 80.7M39.5 4.3C39.3 5.3 39.8 7.9 38.6 10.3C37.5 12.7 33.8 16.3 32.6 18.9C31.5 21.5 32.2 24.3 31.8 25.8C31.3 27.2 30.3 27.2 30.0 27.5M37.8 11.2C38.9 11.3 42.9 11.0 44.6 12.0C46.4 13.0 47.4 14.9 48.1 17.2C48.8 19.5 47.8 23.2 48.9 25.8C50.1 28.3 52.9 30.6 54.9 32.6C56.9 34.6 58.7 36.6 61.0 37.8C63.2 38.9 66.0 38.9 68.7 39.5C71.4 40.1 75.0 40.2 77.3 41.2C79.6 42.2 80.6 44.4 82.4 45.5C84.2 46.6 87.1 47.6 88.0 48.1M37.8 12.9C38.6 14.5 41.5 19.5 42.9 22.3C44.4 25.2 46.1 27.3 46.4 30.0C46.6 32.8 45.2 36.2 44.6 38.6C44.1 41.1 43.2 43.6 42.9 44.6M79.8 29.2C78.8 30.3 76.0 34.3 73.8 36.1C71.7 37.8 68.1 38.9 67.0 39.5M45.5 51.5C46.5 51.8 49.4 52.1 51.5 53.2C53.7 54.4 55.8 56.8 58.4 58.4C61.0 60.0 64.8 61.2 67.0 62.7C69.1 64.1 70.5 66.2 71.3 67.0M71.3 67.0C71.5 68.0 73.1 71.0 73.0 73.0C72.8 75.0 70.8 76.5 70.4 79.0C70.0 81.5 70.4 86.5 70.4 88.0M73.0 70.4C74.4 70.1 79.1 69.0 81.6 68.7C84.1 68.4 86.9 68.7 88.0 68.7M80.7 70.4C80.6 71.5 79.6 75.3 79.8 77.3C80.1 79.3 82.0 81.6 82.4 82.4M100.7 58.4C101.7 58.8 105.2 59.5 106.7 61.0C108.3 62.4 109.5 64.2 110.2 67.0C110.9 69.7 110.6 73.8 111.0 77.3C111.5 80.8 112.3 84.7 112.8 88.0C113.2 91.3 113.3 94.2 113.6 97.3C113.9 100.4 114.3 105.2 114.5 106.7M129.9 56.7C128.8 57.7 124.8 60.4 123.1 62.7C121.3 65.0 120.5 66.2 119.6 70.4C118.8 74.6 118.5 85.2 117.9 88.0C117.3 90.8 116.6 85.5 116.2 87.0C115.8 88.6 115.5 95.6 115.3 97.3M3.9 114.5C4.9 114.3 7.5 114.6 10.3 113.6C13.1 112.6 17.6 108.8 20.6 108.5C23.6 108.1 25.8 111.0 28.3 111.5C30.9 111.9 34.8 111.1 36.1 111.0M6.9 93.0L12.9 96.4M60.1 111.9C59.8 113.2 59.8 117.2 58.4 119.6C56.9 122.1 53.7 125.1 51.5 126.5C49.4 127.9 47.9 127.8 45.5 128.2C43.1 128.6 38.3 128.9 36.9 129.1M71.3 111.9C71.5 113.5 72.7 117.8 73.0 121.3C73.3 124.9 73.5 130.6 73.0 133.4C72.4 136.1 68.8 136.5 69.5 137.7C70.3 138.8 74.5 139.2 77.3 140.2C80.0 141.2 84.1 142.8 85.9 143.7C87.6 144.5 87.6 145.1 88.0 145.4M85.9 145.4C85.0 146.8 82.4 151.8 80.7 154.0C79.0 156.1 76.6 156.3 75.5 158.3C74.5 160.3 74.8 164.7 74.7 166.0M31.8 167.3C32.5 165.9 33.9 161.8 36.1 159.1C38.2 156.5 41.4 152.1 44.6 151.4C47.9 150.7 50.4 155.0 55.8 154.8C61.2 154.7 73.0 151.0 77.3 150.5C81.6 150.1 80.8 152.0 81.6 152.2M87.0 91.3C88.9 91.1 93.3 90.3 98.2 90.0C103.0 89.7 113.2 89.6 116.2 89.6M93.9 103.3C94.9 103.9 96.4 106.1 99.9 106.7C103.3 107.4 110.9 106.9 114.5 107.2C118.1 107.5 119.5 107.7 121.3 108.5C123.2 109.3 124.8 109.8 125.6 111.9C126.5 114.0 125.8 118.3 126.5 121.3C127.2 124.3 128.4 127.2 129.9 129.9C131.5 132.6 135.1 134.8 135.9 137.7C136.8 140.5 134.8 143.4 135.1 147.1C135.4 150.8 137.2 157.8 137.7 160.0M125.6 110.2C126.9 109.3 131.8 107.2 133.4 105.0C134.9 102.9 134.4 99.5 135.1 97.3C135.8 95.2 137.2 93.9 137.7 92.2C138.1 90.4 137.7 87.9 137.7 87.0M135.1 104.2C135.5 105.6 137.4 109.2 137.7 112.8C137.9 116.3 137.1 121.5 136.8 125.6C136.5 129.8 136.1 135.7 135.9 137.7M114.5 108.5C113.0 109.2 108.3 109.8 105.9 112.8C103.5 115.8 101.9 122.5 99.9 126.5C97.9 130.5 96.0 133.8 93.9 136.8C91.7 139.8 88.1 143.2 87.0 144.5M87.0 109.3C87.6 110.6 89.7 113.9 90.4 117.1C91.2 120.2 90.7 125.2 91.3 128.2C91.9 131.2 93.4 133.9 93.9 135.1M97.3 131.6C98.7 132.9 104.5 136.5 105.9 139.4C107.3 142.2 106.0 145.4 105.9 148.8C105.7 152.2 105.2 158.1 105.0 160.0M87.0 145.4C88.1 146.8 92.3 151.7 93.9 154.0C95.4 156.3 94.4 158.0 96.4 159.1C98.4 160.3 103.2 161.0 105.9 160.8C108.6 160.7 110.8 158.1 112.8 158.3C114.8 158.4 117.1 161.1 117.9 161.7M155.7 96.9L155.7 100.7M145.4 122.2C146.1 122.6 148.9 123.6 149.7 124.8C150.5 125.9 150.0 128.4 150.1 129.1M151.0 156.5L151.4 159.1" fill="none" stroke="#1a1a1a" stroke-width="1.5" stroke-linecap="round" stroke-linejoin="round"/>
<path d="M113.3 2.9C113.5 4.1 113.5 8.0 114.3 9.8C115.0 11.5 116.4 12.5 117.7 13.7C119.0 14.8 120.8 16.3 122.1 16.6C123.4 16.9 124.1 15.9 125.5 15.6C126.9 15.3 128.6 14.8 130.4 14.6C132.2 14.5 134.3 14.5 136.2 14.6C138.2 14.8 140.6 16.0 142.1 15.6C143.5 15.2 144.3 13.6 145.0 12.2C145.7 10.8 146.0 8.9 146.5 7.3C147.0 5.8 147.7 3.7 147.9 2.9M147.9 2.9C148.1 3.4 148.3 4.9 148.9 5.9C149.5 6.8 150.3 8.1 151.3 8.8C152.4 9.4 154.0 8.9 155.2 9.8C156.5 10.6 157.6 12.3 158.7 13.7C159.7 15.0 161.5 17.0 161.6 18.0C161.7 19.1 160.4 19.6 159.1 20.0C157.8 20.4 155.3 20.1 153.8 20.5C152.2 20.9 151.1 21.5 149.9 22.4C148.7 23.4 147.8 25.5 146.5 26.3C145.2 27.2 143.8 27.3 142.1 27.3C140.4 27.3 137.7 26.9 136.2 26.3C134.8 25.8 133.8 24.3 133.3 23.9M153.8 2.9C153.9 3.5 154.5 5.2 154.8 6.3C155.0 7.5 155.2 9.2 155.2 9.8M122.1 16.6C122.5 17.2 124.3 19.3 124.5 20.5C124.8 21.6 123.4 22.0 123.5 23.4C123.7 24.8 124.3 27.6 125.5 28.8C126.6 29.9 129.4 30.7 130.4 30.2C131.3 29.8 130.9 27.4 131.3 26.3C131.8 25.3 132.5 24.7 133.3 23.9C134.1 23.1 134.8 22.1 136.2 21.5C137.7 20.8 140.6 20.9 142.1 20.0C143.5 19.1 144.5 17.4 145.0 16.1C145.5 14.8 145.0 12.8 145.0 12.2M125.5 28.8C124.8 28.5 122.5 26.9 121.1 27.3C119.7 27.7 117.4 29.8 117.2 31.2C117.0 32.7 118.6 34.9 119.6 36.1C120.7 37.3 122.2 38.3 123.5 38.5C124.9 38.8 126.8 38.3 127.9 37.6C129.1 36.8 130.0 35.4 130.4 34.1C130.8 32.9 130.4 30.9 130.4 30.2M69.1 3.3C70.2 3.5 73.5 4.2 75.8 4.6C78.0 5.0 79.6 5.4 82.4 5.8C85.2 6.2 89.3 6.5 92.4 7.1C95.4 7.6 98.1 9.1 100.7 9.1C103.3 9.2 106.1 8.2 108.2 7.5C110.2 6.8 112.0 5.7 113.1 5.0C114.2 4.3 114.5 3.6 114.8 3.3M100.7 9.1C100.8 10.4 101.1 14.5 101.5 16.6C101.9 18.7 102.1 19.9 103.2 21.6C104.3 23.3 106.5 25.6 108.2 26.6C109.8 27.5 112.3 27.3 113.1 27.4M81.6 28.2C83.0 28.8 87.0 30.2 89.9 31.6C92.8 32.9 96.7 34.9 99.0 36.5C101.4 38.2 102.3 39.9 104.0 41.5C105.7 43.2 107.5 45.1 109.0 46.5C110.5 47.9 111.6 49.4 113.1 49.8C114.7 50.2 116.7 49.0 118.1 49.0C119.5 49.0 120.3 49.3 121.4 49.8C122.6 50.4 123.4 51.5 124.8 52.3C126.2 53.2 128.2 53.8 129.8 54.8C131.3 55.8 133.1 56.3 133.9 58.1C134.7 59.9 133.8 63.5 134.7 65.6C135.7 67.7 137.9 69.4 139.7 70.6C141.5 71.8 143.0 73.9 145.5 73.1C148.0 72.3 152.0 67.1 154.7 65.6C157.3 64.1 159.1 64.1 161.3 64.0C163.5 63.8 166.8 64.6 168.0 64.8M82.4 64.0C83.1 62.2 85.0 56.1 86.6 53.2C88.1 50.2 89.5 48.9 91.5 46.5C93.6 44.2 96.7 41.4 99.0 39.0C101.4 36.7 103.6 34.2 105.7 32.4C107.7 30.6 109.4 29.8 111.5 28.2C113.6 26.7 116.2 24.9 118.1 23.3C120.1 21.6 121.9 19.5 123.1 18.3C124.4 17.0 125.2 16.2 125.6 15.8M90.7 73.1C91.4 71.7 93.2 67.7 94.9 64.8C96.5 61.9 98.7 58.4 100.7 55.6C102.6 52.9 104.7 50.5 106.5 48.2C108.3 45.8 110.1 43.7 111.5 41.5C112.9 39.3 113.4 36.5 114.8 34.9C116.2 33.2 118.1 32.5 119.8 31.6C121.4 30.6 122.8 29.9 124.8 29.1C126.7 28.2 129.5 27.4 131.4 26.6C133.3 25.7 135.6 24.5 136.4 24.1M131.4 31.6C131.4 33.2 131.3 38.5 131.4 41.5C131.6 44.6 131.8 47.1 132.2 49.8C132.7 52.6 133.6 56.8 133.9 58.1M134.7 28.2C135.0 29.6 135.7 34.1 136.4 36.5C137.1 39.0 138.5 42.1 138.9 43.2M94.9 78.9C96.5 78.9 101.1 79.0 104.8 78.9C108.6 78.8 113.6 78.5 117.3 78.1C121.0 77.7 124.5 77.2 127.3 76.4C130.0 75.6 131.4 73.6 133.9 73.1C136.4 72.5 140.3 73.1 142.2 73.1C144.1 73.1 145.0 73.1 145.5 73.1M13.7 3.9C14.7 5.4 17.7 9.5 19.7 12.9C21.7 16.2 23.3 20.0 25.8 24.0C28.2 28.0 31.6 32.9 34.3 36.9C37.1 40.9 39.8 44.4 42.1 48.1C44.3 51.8 46.7 57.4 47.6 59.2M47.6 60.0C47.4 62.0 47.4 69.5 46.4 71.7C45.4 73.9 43.3 71.8 41.7 73.5C40.1 75.1 38.0 79.0 37.0 81.7C36.0 84.3 36.1 86.0 35.9 89.3C35.6 92.5 35.0 97.8 35.3 101.0C35.6 104.2 36.4 106.8 37.6 108.6C38.8 110.3 40.6 111.1 42.3 111.5C43.9 111.9 45.2 111.3 47.6 110.9C49.9 110.5 53.8 109.2 56.3 109.2C58.9 109.2 61.1 110.5 62.8 110.9C64.4 111.3 64.9 111.9 66.3 111.5C67.7 111.1 68.2 109.7 71.0 108.6C73.7 107.5 79.7 105.5 82.7 105.1C85.6 104.7 86.8 106.7 88.5 106.2C90.3 105.7 91.8 104.0 93.2 102.1C94.6 100.3 96.2 98.2 96.7 95.1C97.2 92.0 96.5 86.7 96.1 83.4C95.7 80.1 95.2 77.4 94.4 75.2C93.6 73.1 92.6 71.9 91.5 70.5C90.3 69.2 89.0 67.9 87.4 67.0C85.7 66.1 84.2 65.6 81.5 65.3C78.8 65.0 74.7 64.9 71.0 65.3C67.3 65.7 62.0 67.6 59.3 67.6C56.5 67.6 56.2 66.0 54.6 65.3C52.9 64.5 50.5 63.8 49.3 62.9C48.1 62.0 47.9 60.5 47.6 60.0M99.1 60.0C98.3 61.2 95.8 64.9 94.4 67.0C92.9 69.2 91.6 70.8 90.3 72.9C88.9 74.9 87.6 77.1 86.2 79.3C84.7 81.6 82.9 84.1 81.5 86.3C80.1 88.6 79.4 91.3 78.0 92.8C76.6 94.2 74.5 94.3 73.3 95.1C72.1 95.9 71.6 95.0 71.0 97.5C70.4 99.9 70.0 107.7 69.8 109.7M90.9 71.7C90.4 72.3 88.6 73.5 87.9 75.2C87.3 77.0 86.7 81.0 86.8 82.2C86.9 83.5 87.5 83.2 88.5 82.8C89.6 82.4 91.3 80.4 93.2 79.9C95.1 79.4 98.9 79.9 100.0 79.9M81.5 60.0L80.9 65.3M41.7 73.5C42.9 73.9 47.5 74.6 48.7 75.8C50.0 77.0 48.5 78.9 49.3 80.5C50.1 82.0 51.9 83.9 53.4 85.2C54.9 86.4 56.4 87.1 58.1 88.1C59.8 89.1 62.2 89.3 63.4 91.0C64.5 92.8 64.8 95.3 65.1 98.6C65.4 101.9 65.1 108.9 65.1 110.9M38.8 89.3C39.6 89.6 41.8 90.2 43.5 91.0C45.1 91.8 46.8 93.8 48.7 93.9C50.7 94.0 53.4 92.4 55.2 91.6C56.9 90.8 58.6 89.7 59.3 89.3M43.5 109.7C44.4 108.9 46.7 106.1 49.3 104.5C51.9 102.8 57.0 101.4 59.3 99.8C61.5 98.2 61.8 96.2 62.8 95.1C63.8 94.0 63.8 93.7 65.1 93.4C66.5 93.1 69.2 93.3 71.0 93.4C72.7 93.5 74.5 94.0 75.7 93.9C76.8 93.8 77.6 93.0 78.0 92.8M71.0 96.3L69.8 110.3M30.0 83.4L36.4 82.5M30.0 93.9L35.9 92.5M3.9 78.1C5.4 78.3 9.9 78.6 12.9 79.0C15.8 79.3 18.6 79.7 21.5 80.3C24.3 80.8 27.6 82.1 30.0 82.4C32.5 82.8 35.1 82.4 36.1 82.4M3.9 99.9C5.4 99.5 9.2 98.3 12.9 97.3C16.5 96.3 21.9 94.7 25.8 93.9C29.6 93.1 34.3 92.8 36.1 92.6M42.1 111.9C41.9 113.2 42.1 117.2 41.2 119.6C40.4 122.1 38.1 124.2 36.9 126.5C35.8 128.8 35.9 131.5 34.3 133.4C32.8 135.2 29.2 136.2 27.5 137.7C25.8 139.1 25.2 139.5 24.0 141.9C22.9 144.4 22.0 149.1 20.6 152.2C19.2 155.4 16.7 158.1 15.5 160.8C14.2 163.6 13.3 167.3 12.9 168.6" fill="none" stroke="#000" stroke-width="3" stroke-linecap="round" stroke-linejoin="round"/>
<rect x="138.1" y="75.5" width="27.5" height="21.4" rx="2.5" fill="#fff" stroke="#222" stroke-width="1.1"/>
<rect x="138.1" y="100.7" width="27.5" height="21.5" rx="2.5" fill="#fff" stroke="#222" stroke-width="1.1"/>
<circle cx="151" cy="142.8" r="13.3" fill="#fff" stroke="#222" stroke-width="1.1"/></g></g>
<path d="M2 156Q167 178 332.6 156.5" fill="none" stroke="#000" stroke-width="3"/>
<line x1="168" y1="2" x2="168" y2="167" stroke="#111" stroke-width="1.3"/>
<line x1="2" y1="24.1" x2="168" y2="24.1" stroke="#222" stroke-width="1.2"/>
<rect x="2" y="2" width="330.6" height="185.2" fill="none" stroke="#000" stroke-width="2.4"/>
<text x="60.2" y="57.4" font-size="10" textLength="63.7" lengthAdjust="spacingAndGlyphs" fill="#3a3a3a" stroke="#3a3a3a" stroke-width="0.25">Score 99/100</text><path d="M69.9 66V132M80.1 66V132M90.1 66V132M100.1 66V132M109.5 66V132M120 66V132M129.9 66V132M139.4 66V132M148.8 66V132M157.6 66V132M59.6 66H157.6" stroke="#444" stroke-width="0.9"/><rect x="59.6" y="72.4" width="49.9" height="13.2" fill="#000"/><rect x="59.6" y="92.3" width="88.8" height="12.2" fill="#000"/><rect x="59.6" y="111.7" width="60.4" height="12.1" fill="#000"/><path d="M59.6 64.6V132.2H157.6" fill="none" stroke="#000" stroke-width="1.4"/><text x="57.4" y="82.3" font-size="9.5" textLength="21" lengthAdjust="spacingAndGlyphs" text-anchor="end" fill="#3a3a3a" stroke="#3a3a3a" stroke-width="0.25">Start</text><text x="57.4" y="101.1" font-size="9.5" textLength="28.2" lengthAdjust="spacingAndGlyphs" text-anchor="end" fill="#3a3a3a" stroke="#3a3a3a" stroke-width="0.25">Cruise</text><text x="57.4" y="120.5" font-size="9.5" textLength="42" lengthAdjust="spacingAndGlyphs" text-anchor="end" fill="#3a3a3a" stroke="#3a3a3a" stroke-width="0.25">Vertragen</text>
</svg><svg style="left:0;top:0" width="1445" height="1025" viewBox="0 0 1445 1025">
<g font-size="12" fill="#111" stroke="#111" stroke-width="0.2">
<text x="428" y="508.3" textLength="57.1" lengthAdjust="spacingAndGlyphs">JNB0450X</text>
<text x="877.2" y="401.6" textLength="57.9" lengthAdjust="spacingAndGlyphs">5GB0566X</text>
<text x="877.2" y="760.8" textLength="57.9" lengthAdjust="spacingAndGlyphs">5GB0567X</text>
<text x="1326.4" y="508.3" textLength="58.4" lengthAdjust="spacingAndGlyphs">5GH0278X</text>
</g>
<text x="1215.8" y="983" font-size="18.5" font-weight="bold" fill="#151515" textLength="130.1" lengthAdjust="spacingAndGlyphs">Om te beginnen</text>
<text x="1363.6" y="983" font-size="18.5" fill="#151515" stroke="#151515" stroke-width="0.3" textLength="29" lengthAdjust="spacingAndGlyphs">2-9</text>
</svg>
</body></html>
